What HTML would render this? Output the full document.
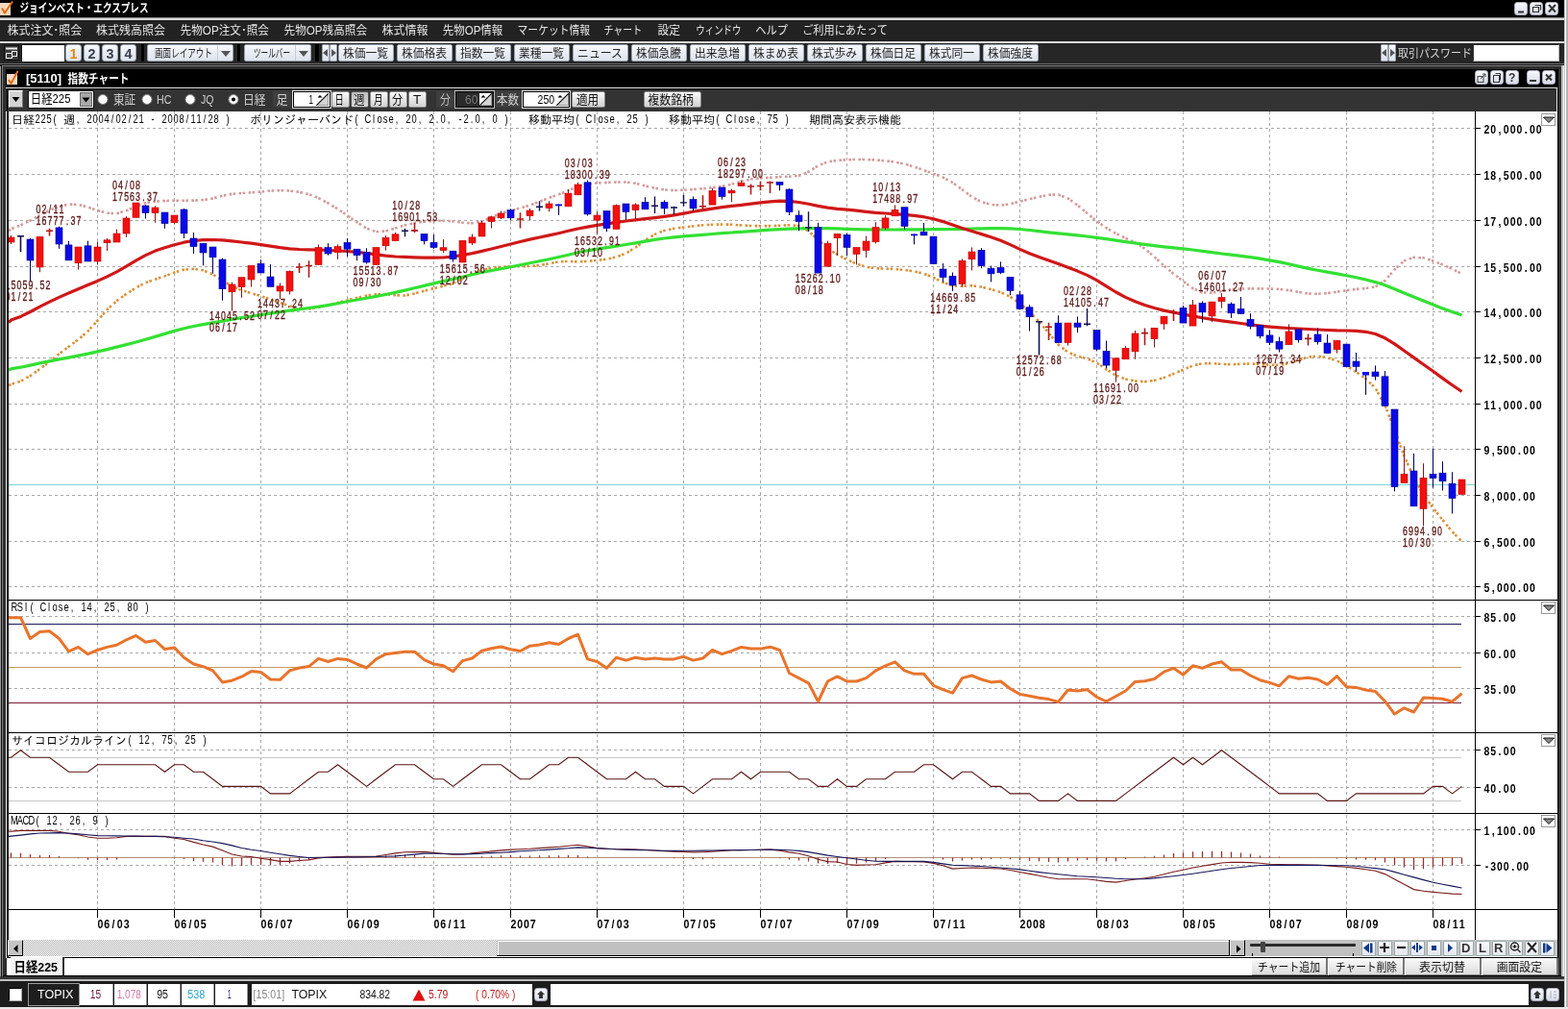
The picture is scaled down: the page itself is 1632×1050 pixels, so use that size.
<!DOCTYPE html>
<html lang="ja"><head><meta charset="utf-8"><title>ジョインベスト・エクスプレス</title><style>
*{margin:0;padding:0}
html,body{width:1632px;height:1050px;overflow:hidden;background:#1c1c1c}
body{position:relative;font-family:"Liberation Sans","Noto Sans CJK JP",sans-serif}
.a{position:absolute}
.btn{position:absolute;box-sizing:border-box;background:linear-gradient(#f6f8fc,#dde3ed);border:1px solid #9aa2b0;border-radius:2px}
.dd{position:absolute;width:16px;height:16px;border-left:1px solid #c8ccd4}
.dd:after{content:"";position:absolute;left:3px;top:6px;border-left:5px solid transparent;border-right:5px solid transparent;border-top:6px solid #555}
.tl,.tr{position:absolute;width:0;height:0;border-top:4px solid transparent;border-bottom:4px solid transparent}
.tl{border-right:5px solid #555}
.tr{border-left:5px solid #555}
.wb{position:absolute;box-sizing:border-box;background:linear-gradient(#f6f8fc,#d6dce8);border:1px solid #aab;border-radius:3px}
.tbtn{position:absolute;box-sizing:border-box;background:linear-gradient(#fafafa,#d2d2d2);border:1px solid #888;border-radius:2px}
.tbtn.pr{background:linear-gradient(#bdbdbd,#d8d8d8);border-color:#555}
.spin{position:absolute;width:13px;height:15px;box-sizing:border-box;background:linear-gradient(135deg,#f0f0f0 50%,#c8c8c8 50%);border:1px solid #888}
.dith{background:repeating-conic-gradient(#b0b0b0 0 25%,#ffffff 0 50%) 0 0/2px 2px}
.sb{background:#c4c4c4;border:1px solid #e8e8e8;border-right-color:#000;border-bottom-color:#000;box-sizing:border-box}
.ib{background:linear-gradient(#fcfcfe,#e2e6ee);border:1px solid #9aa;box-sizing:border-box;border-radius:1px}
.bb{background:linear-gradient(#fafafa,#dcdcdc);border-right:2px solid #777;border-bottom:2px solid #888;box-sizing:border-box}
</style></head><body>
<div class="a" style="left:0;top:0;width:1628px;height:18px;background:#000"></div>
<div class="a" style="left:0;top:3px;width:11px;height:13px;background:#f3d9c0"></div>
<svg class="a" style="left:0;top:0" width="20" height="18"><path d="M2 8.5l3 5 8-12" stroke="#e06a10" stroke-width="2" fill="none"/></svg>
<div class="wb" style="left:1576px;top:2px;width:14px;height:14px"></div>
<div class="wb" style="left:1592px;top:2px;width:14px;height:14px"></div>
<div class="wb" style="left:1608px;top:2px;width:14px;height:14px"></div>
<svg class="a" style="left:1576px;top:2px" width="48" height="14"><path d="M4 10.5h6" stroke="#333" stroke-width="2"/><path d="M19.5 5.5h6v5h-6zM21.5 3.5h6v5" stroke="#333" stroke-width="1.2" fill="none"/><path d="M36 3l7 7.5M43 3l-7 7.5" stroke="#333" stroke-width="2"/></svg>
<div class="a" style="left:0;top:18px;width:1628px;height:1px;background:#8a8a8a"></div>
<div class="a" style="left:0;top:19px;width:1628px;height:2px;background:#d8d8d8"></div>
<div class="a" style="left:0;top:21px;width:1628px;height:22px;background:#222"></div>
<div class="a" style="left:0;top:43px;width:1628px;height:2px;background:#d8d8d8"></div>
<div class="a" style="left:0;top:45px;width:1628px;height:21px;background:#262626"></div>
<div class="a" style="left:0;top:66px;width:1628px;height:1px;background:#6a6a6a"></div>
<div class="a" style="left:0;top:67px;width:1628px;height:2px;background:#1a1a1a"></div>
<div class="a" style="left:4px;top:47px;width:16px;height:16px;background:#3a3a3a;border:1px solid #111;box-sizing:border-box"></div>
<svg class="a" style="left:4px;top:47px" width="16" height="16"><path d="M2 3.5h12" stroke="#eee" stroke-width="2"/><rect x="2.5" y="8.5" width="6" height="5" fill="none" stroke="#eee"/><rect x="8.5" y="6.5" width="5" height="5" fill="none" stroke="#eee"/></svg>
<div class="a" style="left:22px;top:46px;width:45px;height:18px;background:#fff;border-top:1px solid #111;border-left:1px solid #111;box-sizing:border-box"></div>
<div class="btn" style="left:68px;top:46px;width:17px;height:18px;border-radius:3px"></div>
<div class="btn" style="left:87px;top:46px;width:17px;height:18px;border-radius:3px"></div>
<div class="btn" style="left:106px;top:46px;width:17px;height:18px;border-radius:3px"></div>
<div class="btn" style="left:125px;top:46px;width:17px;height:18px;border-radius:3px"></div>
<div class="a" style="left:147px;top:46px;width:3px;height:18px;background:#000"></div>
<div class="btn" style="left:153px;top:46px;width:90px;height:18px;"></div>
<div class="dd" style="left:226px;top:47px"></div>
<div class="a" style="left:247px;top:46px;width:3px;height:18px;background:#000"></div>
<div class="btn" style="left:254px;top:46px;width:70px;height:18px;"></div>
<div class="dd" style="left:307px;top:47px"></div>
<div class="a" style="left:328px;top:46px;width:4px;height:18px;background:#000"></div>
<div class="btn" style="left:335px;top:46px;width:8px;height:18px;border-radius:1px"></div>
<div class="tl" style="left:336px;top:51px"></div>
<div class="btn" style="left:343px;top:46px;width:8px;height:18px;border-radius:1px"></div>
<div class="tr" style="left:345px;top:51px"></div>
<div class="btn" style="left:352px;top:46px;width:58px;height:18px;"></div>
<div class="btn" style="left:413px;top:46px;width:58px;height:18px;"></div>
<div class="btn" style="left:474px;top:46px;width:58px;height:18px;"></div>
<div class="btn" style="left:535px;top:46px;width:58px;height:18px;"></div>
<div class="btn" style="left:596px;top:46px;width:58px;height:18px;"></div>
<div class="btn" style="left:657px;top:46px;width:58px;height:18px;"></div>
<div class="btn" style="left:718px;top:46px;width:58px;height:18px;"></div>
<div class="btn" style="left:779px;top:46px;width:58px;height:18px;"></div>
<div class="btn" style="left:840px;top:46px;width:58px;height:18px;"></div>
<div class="btn" style="left:901px;top:46px;width:58px;height:18px;"></div>
<div class="btn" style="left:962px;top:46px;width:58px;height:18px;"></div>
<div class="btn" style="left:1023px;top:46px;width:58px;height:18px;"></div>
<div class="btn" style="left:1437px;top:46px;width:8px;height:18px;border-radius:1px"></div>
<div class="tl" style="left:1438px;top:51px"></div>
<div class="btn" style="left:1445px;top:46px;width:8px;height:18px;border-radius:1px"></div>
<div class="tr" style="left:1447px;top:51px"></div>
<div class="a" style="left:1533px;top:46px;width:90px;height:18px;background:#fff;border:1px solid #bbb;border-top-color:#333;border-left-color:#333;box-sizing:border-box"></div>
<div class="a" style="left:1628px;top:0;width:4px;height:1050px;background:#c4c4c4"></div>
<div class="a" style="left:1629px;top:0;width:1px;height:1050px;background:#fff"></div>
<div class="a" style="left:1630px;top:0;width:2px;height:1050px;background:#b4b4b4"></div>
<div class="a" style="left:0;top:69px;width:1628px;height:950px;background:#2e2e2e"></div>
<div class="a" style="left:0;top:69px;width:1px;height:950px;background:#9a9a9a"></div>
<div class="a" style="left:1px;top:69px;width:1px;height:950px;background:#111"></div>
<div class="a" style="left:2px;top:68px;width:1px;height:950px;background:#7c7c7c"></div>
<div class="a" style="left:2px;top:68px;width:1624px;height:1px;background:#7c7c7c"></div>
<div class="a" style="left:1625px;top:68px;width:1px;height:950px;background:#d0d0d0"></div>
<div class="a" style="left:6px;top:72px;width:1616px;height:19px;background:#000"></div>
<div class="a" style="left:7px;top:77px;width:11px;height:11px;background:#f6dcc6"></div>
<svg class="a" style="left:6px;top:72px" width="16" height="18"><path d="M3 11l2.5 4 7-13" stroke="#e07010" stroke-width="2" fill="none"/></svg>
<div class="wb" style="left:1535px;top:73px;width:14px;height:15px"></div>
<div class="wb" style="left:1551px;top:73px;width:14px;height:15px"></div>
<div class="wb" style="left:1567px;top:73px;width:14px;height:15px"></div>
<div class="wb" style="left:1589px;top:73px;width:14px;height:15px"></div>
<div class="wb" style="left:1605px;top:73px;width:14px;height:15px"></div>
<svg class="a" style="left:1535px;top:73px" width="84" height="15"><rect x="3" y="6.5" width="6" height="6" fill="none" stroke="#444"/><path d="M6 9l5-5M8 4h3v3" stroke="#444" fill="none"/><rect x="19.5" y="5.5" width="6" height="7" fill="none" stroke="#333"/><path d="M21.5 3.5h5v7" stroke="#333" fill="none"/><text x="35" y="12" font-family="Liberation Sans" font-weight="bold" font-size="12" fill="#333">?</text><path d="M57 11h7" stroke="#333" stroke-width="2"/><path d="M74 4.5l6 6M80 4.5l-6 6" stroke="#333" stroke-width="2"/></svg>
<div class="a" style="left:6px;top:91px;width:1615px;height:1px;background:#e8e8e8"></div>
<div class="a" style="left:7px;top:92px;width:1613px;height:24px;background:#333;border-top:1px solid #000;border-left:1px solid #000;box-sizing:border-box"></div>
<div class="a" style="left:9px;top:94px;width:15px;height:18px;background:#d4d4d4;border:1px solid #fff;border-right-color:#777;border-bottom-color:#777;box-sizing:border-box"></div>
<svg class="a" style="left:9px;top:94px" width="15" height="18"><path d="M3.5 7h8l-4 5z" fill="#000"/></svg>
<div class="a" style="left:29px;top:94px;width:69px;height:19px;background:#fff;border:1px solid #111;box-sizing:border-box"></div>
<div class="a" style="left:83px;top:96px;width:13px;height:15px;background:#a8a8a8;border:1px solid #666;box-sizing:border-box"></div>
<svg class="a" style="left:83px;top:96px" width="13" height="15"><path d="M2.5 5.5h8l-4 5z" fill="#000"/></svg>
<svg class="a" style="left:101px;top:97px" width="13" height="13"><circle cx="6" cy="6.5" r="5" fill="#fff" stroke="#888" stroke-width="1"/></svg>
<svg class="a" style="left:147px;top:97px" width="13" height="13"><circle cx="6" cy="6.5" r="5" fill="#fff" stroke="#888" stroke-width="1"/></svg>
<svg class="a" style="left:192px;top:97px" width="13" height="13"><circle cx="6" cy="6.5" r="5" fill="#fff" stroke="#888" stroke-width="1"/></svg>
<svg class="a" style="left:237px;top:97px" width="13" height="13"><circle cx="6" cy="6.5" r="5" fill="#fff" stroke="#888" stroke-width="1"/><circle cx="6" cy="6.5" r="2" fill="#000"/></svg>
<div class="a" style="left:284px;top:95px;width:19px;height:17px;background:#3e3e3e"></div>
<div class="a" style="left:304px;top:94px;width:41px;height:19px;border:1px solid #ddd;box-sizing:border-box"></div>
<div class="a" style="left:305px;top:95px;width:39px;height:17px;background:#fff;border:1px solid #000;box-sizing:border-box"></div>
<svg class="a" style="left:329px;top:97px" width="13" height="13"><rect width="13" height="13" fill="#fff"/><path d="M0 13L13 0V13Z" fill="#d4d4d4"/><path d="M12.5 1v11.5H1" stroke="#999" fill="none"/><path d="M0.3 12.7L12.7 0.3" stroke="#000" stroke-width="1.1"/><path d="M1.5 4.5l2.5-2.5 2.5 2.5z" fill="#000"/></svg>
<div class="tbtn" style="left:345px;top:95px;width:19px;height:17px"></div>
<div class="tbtn pr" style="left:365px;top:95px;width:19px;height:17px"></div>
<div class="tbtn" style="left:385px;top:95px;width:19px;height:17px"></div>
<div class="tbtn" style="left:405px;top:95px;width:19px;height:17px"></div>
<div class="tbtn" style="left:425px;top:95px;width:19px;height:17px"></div>
<div class="a" style="left:454px;top:95px;width:19px;height:17px;background:#3e3e3e"></div>
<div class="a" style="left:473px;top:94px;width:42px;height:19px;border:1px solid #bbb;box-sizing:border-box"></div>
<div class="a" style="left:474px;top:95px;width:40px;height:17px;background:#2a2a2a;border:1px solid #000;box-sizing:border-box"></div>
<svg class="a" style="left:499px;top:97px" width="13" height="13"><rect width="13" height="13" fill="#fff"/><path d="M0 13L13 0V13Z" fill="#d4d4d4"/><path d="M12.5 1v11.5H1" stroke="#999" fill="none"/><path d="M0.3 12.7L12.7 0.3" stroke="#000" stroke-width="1.1"/><path d="M1.5 4.5l2.5-2.5 2.5 2.5z" fill="#000"/></svg>
<div class="a" style="left:515px;top:95px;width:28px;height:17px;background:#3e3e3e"></div>
<div class="a" style="left:543px;top:94px;width:51px;height:19px;border:1px solid #ddd;box-sizing:border-box"></div>
<div class="a" style="left:544px;top:95px;width:49px;height:17px;background:#fff;border:1px solid #000;box-sizing:border-box"></div>
<svg class="a" style="left:579px;top:97px" width="13" height="13"><rect width="13" height="13" fill="#fff"/><path d="M0 13L13 0V13Z" fill="#d4d4d4"/><path d="M12.5 1v11.5H1" stroke="#999" fill="none"/><path d="M0.3 12.7L12.7 0.3" stroke="#000" stroke-width="1.1"/><path d="M1.5 4.5l2.5-2.5 2.5 2.5z" fill="#000"/></svg>
<div class="tbtn" style="left:595px;top:95px;width:35px;height:17px"></div>
<div class="tbtn" style="left:670px;top:95px;width:60px;height:17px"></div>
<div class="a" style="left:7px;top:116px;width:2px;height:881px;background:#000"></div>
<div class="a" style="left:6px;top:116px;width:1px;height:881px;background:#f4f4f4"></div>
<div class="a" style="left:1620px;top:92px;width:1px;height:24px;background:#e8e8e8"></div>
<div class="a" style="left:1621px;top:92px;width:1px;height:926px;background:#000"></div>
<div class="a" style="left:1622px;top:72px;width:3px;height:946px;background:#333"></div>
<div class="a" style="left:1625px;top:68px;width:2px;height:952px;background:#bcbcbc"></div>
<div class="a" style="left:1627px;top:68px;width:1px;height:952px;background:#fafafa"></div>
<svg class="a" style="left:0;top:0" width="1632" height="1050">
<rect x="9" y="116" width="1612" height="880" fill="#fff"/>
<path d="M101.5 116V946M181.5 116V946M271.5 116V946M361.5 116V946M451.5 116V946M531.5 116V946M621.5 116V946M711.5 116V946M791.5 116V946M881.5 116V946M971.5 116V946M1061.5 116V946M1141.5 116V946M1231.5 116V946M1321.5 116V946M1401.5 116V946M1491.5 116V946M9 133.5H1535M9 181.5H1535M9 229.5H1535M9 277.5H1535M9 324.5H1535M9 372.5H1535M9 420.5H1535M9 467.5H1535M9 515.5H1535M9 563.5H1535M9 610.5H1535M9 641.5H1535M9 679.5H1535M9 716.5H1535M9 780.5H1535M9 819.5H1535M9 863.5H1535M9 900.5H1535" stroke="#a8a8a8" stroke-width="1" stroke-dasharray="3,3" fill="none"/>
<clipPath id="cm"><rect x="9" y="116" width="1526" height="508"/></clipPath>
<g clip-path="url(#cm)">
<path d="M9 504.5H1535" stroke="#7fd4d4" stroke-width="1"/>
<polyline points="9.0,240.3 11.5,238.3 21.5,234.4 31.5,229.5 41.5,224.1 51.5,218.9 61.5,214.8 71.5,212.6 81.5,212.9 91.5,215.5 101.5,219.0 111.5,221.7 121.5,222.1 131.5,219.2 141.5,214.6 151.5,211.2 161.5,209.7 171.5,209.0 181.5,208.8 191.5,208.7 201.5,208.6 211.5,208.0 221.5,206.5 231.5,203.8 241.5,201.8 251.5,201.0 261.5,200.4 271.5,199.6 281.5,198.5 291.5,198.1 301.5,198.5 311.5,199.8 321.5,202.2 331.5,206.1 341.5,211.4 351.5,217.5 361.5,224.2 371.5,231.2 381.5,237.6 391.5,241.2 401.5,240.5 411.5,237.4 421.5,234.3 431.5,232.1 441.5,230.7 451.5,229.9 461.5,229.7 471.5,230.3 481.5,231.6 491.5,232.3 501.5,230.1 511.5,226.0 521.5,222.2 531.5,219.2 541.5,216.5 551.5,213.6 561.5,209.8 571.5,205.9 581.5,202.4 591.5,198.3 601.5,194.0 611.5,191.5 621.5,190.5 631.5,190.0 641.5,189.5 651.5,189.5 661.5,190.8 671.5,193.4 681.5,195.8 691.5,197.5 701.5,198.1 711.5,197.8 721.5,197.1 731.5,196.3 741.5,195.3 751.5,193.9 761.5,191.7 771.5,188.8 781.5,186.5 791.5,185.4 801.5,184.8 811.5,184.1 821.5,183.7 831.5,182.9 841.5,178.8 851.5,172.5 861.5,168.3 871.5,166.9 881.5,166.3 891.5,165.9 901.5,166.0 911.5,166.5 921.5,167.3 931.5,168.6 941.5,170.7 951.5,173.6 961.5,177.1 971.5,180.7 981.5,184.6 991.5,190.0 1001.5,197.3 1011.5,204.8 1021.5,210.1 1031.5,212.9 1041.5,213.7 1051.5,212.3 1061.5,209.6 1071.5,207.1 1081.5,204.8 1091.5,202.7 1101.5,202.6 1111.5,206.4 1121.5,213.5 1131.5,221.9 1141.5,230.1 1151.5,237.2 1161.5,243.0 1171.5,247.9 1181.5,252.5 1191.5,258.7 1201.5,267.3 1211.5,276.5 1221.5,284.9 1231.5,292.7 1241.5,300.0 1251.5,304.4 1261.5,304.8 1271.5,302.9 1281.5,301.2 1291.5,300.5 1301.5,300.4 1311.5,300.4 1321.5,300.5 1331.5,300.9 1341.5,302.0 1351.5,303.8 1361.5,305.5 1371.5,305.8 1381.5,305.1 1391.5,303.7 1401.5,302.2 1411.5,300.9 1421.5,300.0 1431.5,298.5 1441.5,292.0 1451.5,280.5 1461.5,271.4 1471.5,267.8 1481.5,268.3 1491.5,271.5 1501.5,275.4 1511.5,279.8 1521.5,285.0" fill="none" stroke="#d49a9a" stroke-width="2.6" stroke-dasharray="2.6,1.4,2.6,3.4"/>
<polyline points="9.0,401.2 11.5,399.9 21.5,396.7 31.5,391.2 41.5,384.0 51.5,376.2 61.5,368.3 71.5,360.7 81.5,353.3 91.5,344.7 101.5,333.6 111.5,322.2 121.5,313.1 131.5,305.9 141.5,299.4 151.5,294.2 161.5,290.7 171.5,287.4 181.5,283.5 191.5,280.6 201.5,279.8 211.5,281.3 221.5,285.5 231.5,291.8 241.5,297.8 251.5,302.0 261.5,305.1 271.5,308.1 281.5,311.6 291.5,315.2 301.5,318.4 311.5,321.0 321.5,321.5 331.5,319.9 341.5,317.4 351.5,315.0 361.5,312.4 371.5,309.9 381.5,307.7 391.5,306.3 401.5,306.1 411.5,307.2 421.5,307.5 431.5,305.5 441.5,302.7 451.5,300.1 461.5,297.8 471.5,294.8 481.5,289.9 491.5,284.5 501.5,280.9 511.5,278.9 521.5,277.8 531.5,277.3 541.5,277.2 551.5,277.0 561.5,276.1 571.5,274.3 581.5,272.3 591.5,271.9 601.5,272.4 611.5,271.9 621.5,270.9 631.5,269.7 641.5,267.5 651.5,263.6 661.5,257.5 671.5,250.2 681.5,243.9 691.5,239.9 701.5,237.8 711.5,236.5 721.5,235.3 731.5,234.3 741.5,233.7 751.5,233.5 761.5,233.7 771.5,234.4 781.5,235.0 791.5,235.2 801.5,235.1 811.5,234.7 821.5,234.2 831.5,235.1 841.5,240.4 851.5,249.6 861.5,258.5 871.5,264.9 881.5,270.1 891.5,274.6 901.5,277.8 911.5,279.2 921.5,279.6 931.5,280.0 941.5,280.9 951.5,282.4 961.5,284.7 971.5,288.8 981.5,293.9 991.5,297.4 1001.5,297.8 1011.5,297.3 1021.5,298.6 1031.5,301.0 1041.5,304.2 1051.5,308.8 1061.5,315.6 1071.5,324.3 1081.5,334.6 1091.5,346.6 1101.5,358.5 1111.5,366.6 1121.5,370.6 1131.5,373.2 1141.5,377.6 1151.5,384.3 1161.5,390.6 1171.5,394.5 1181.5,396.5 1191.5,397.1 1201.5,395.9 1211.5,393.0 1221.5,389.0 1231.5,384.7 1241.5,380.6 1251.5,378.2 1261.5,378.1 1271.5,378.9 1281.5,379.2 1291.5,378.8 1301.5,378.5 1311.5,378.9 1321.5,379.7 1331.5,379.8 1341.5,378.1 1351.5,374.7 1361.5,371.5 1371.5,370.6 1381.5,372.2 1391.5,375.5 1401.5,380.6 1411.5,387.1 1421.5,394.1 1431.5,403.8 1441.5,421.8 1451.5,447.8 1461.5,474.5 1471.5,497.0 1481.5,514.5 1491.5,528.5 1501.5,541.2 1511.5,553.2 1521.5,563.6" fill="none" stroke="#d8923a" stroke-width="2.6" stroke-dasharray="2.6,1.4,2.6,3.4"/>
<polyline points="9.0,385.1 11.5,383.9 21.5,382.2 31.5,380.1 41.5,377.9 51.5,375.9 61.5,373.9 71.5,372.1 81.5,370.1 91.5,368.1 101.5,365.9 111.5,363.6 121.5,361.1 131.5,358.6 141.5,356.0 151.5,353.3 161.5,350.4 171.5,347.4 181.5,344.4 191.5,341.7 201.5,339.5 211.5,337.6 221.5,335.9 231.5,334.1 241.5,332.4 251.5,330.7 261.5,329.1 271.5,327.6 281.5,326.1 291.5,324.6 301.5,323.1 311.5,321.8 321.5,320.5 331.5,319.2 341.5,317.6 351.5,315.8 361.5,313.8 371.5,312.0 381.5,310.2 391.5,308.4 401.5,306.5 411.5,304.4 421.5,302.1 431.5,299.8 441.5,297.4 451.5,294.9 461.5,292.6 471.5,290.4 481.5,288.2 491.5,285.8 501.5,283.5 511.5,281.5 521.5,279.7 531.5,277.8 541.5,275.8 551.5,273.8 561.5,271.8 571.5,269.7 581.5,267.5 591.5,265.2 601.5,262.8 611.5,260.8 621.5,259.1 631.5,257.6 641.5,256.1 651.5,254.5 661.5,252.8 671.5,251.1 681.5,249.4 691.5,248.0 701.5,246.8 711.5,245.9 721.5,245.1 731.5,244.3 741.5,243.5 751.5,242.7 761.5,242.0 771.5,241.4 781.5,240.6 791.5,239.9 801.5,239.2 811.5,238.6 821.5,238.2 831.5,237.9 841.5,237.7 851.5,237.6 861.5,237.7 871.5,237.9 881.5,238.3 891.5,238.6 901.5,238.9 911.5,239.0 921.5,239.0 931.5,239.0 941.5,238.9 951.5,238.9 961.5,238.8 971.5,238.7 981.5,238.6 991.5,238.5 1001.5,238.3 1011.5,238.1 1021.5,237.8 1031.5,237.7 1041.5,237.7 1051.5,237.9 1061.5,238.5 1071.5,239.5 1081.5,240.6 1091.5,241.8 1101.5,242.8 1111.5,243.9 1121.5,244.9 1131.5,246.0 1141.5,247.3 1151.5,248.7 1161.5,250.2 1171.5,251.7 1181.5,253.0 1191.5,254.3 1201.5,255.6 1211.5,256.8 1221.5,257.8 1231.5,258.8 1241.5,260.0 1251.5,261.4 1261.5,262.7 1271.5,264.0 1281.5,265.2 1291.5,266.4 1301.5,267.7 1311.5,269.2 1321.5,270.8 1331.5,272.6 1341.5,274.8 1351.5,277.1 1361.5,279.4 1371.5,281.3 1381.5,283.1 1391.5,284.9 1401.5,286.8 1411.5,288.8 1421.5,291.0 1431.5,293.6 1441.5,296.8 1451.5,300.7 1461.5,304.9 1471.5,309.0 1481.5,313.1 1491.5,317.1 1501.5,320.9 1511.5,324.5 1521.5,328.0" fill="none" stroke="#33e033" stroke-width="3.2" stroke-linejoin="round"/>
<polyline points="9.0,335.6 11.5,333.1 21.5,329.4 31.5,324.5 41.5,319.2 51.5,314.1 61.5,309.4 71.5,305.0 81.5,300.8 91.5,296.6 101.5,292.4 111.5,287.9 121.5,282.9 131.5,277.2 141.5,271.2 151.5,265.6 161.5,261.1 171.5,257.7 181.5,254.8 191.5,252.2 201.5,250.5 211.5,249.7 221.5,249.5 231.5,249.9 241.5,250.8 251.5,252.0 261.5,253.2 271.5,254.6 281.5,256.2 291.5,257.7 301.5,258.9 311.5,259.5 321.5,259.8 331.5,260.0 341.5,260.5 351.5,261.0 361.5,261.5 371.5,262.3 381.5,263.5 391.5,264.9 401.5,266.2 411.5,267.0 421.5,267.4 431.5,267.8 441.5,268.1 451.5,268.2 461.5,268.0 471.5,267.0 481.5,265.5 491.5,263.6 501.5,261.4 511.5,259.0 521.5,256.5 531.5,254.0 541.5,251.5 551.5,249.1 561.5,247.0 571.5,244.9 581.5,242.7 591.5,240.3 601.5,238.0 611.5,236.1 621.5,234.4 631.5,232.9 641.5,231.3 651.5,230.0 661.5,228.8 671.5,227.7 681.5,226.6 691.5,225.3 701.5,223.8 711.5,222.1 721.5,220.3 731.5,218.6 741.5,217.1 751.5,215.7 761.5,214.4 771.5,213.3 781.5,212.1 791.5,210.8 801.5,209.8 811.5,209.2 821.5,209.4 831.5,210.5 841.5,212.3 851.5,214.4 861.5,216.1 871.5,217.3 881.5,218.2 891.5,219.2 901.5,220.3 911.5,221.3 921.5,222.0 931.5,222.6 941.5,223.4 951.5,224.4 961.5,225.7 971.5,227.7 981.5,230.6 991.5,234.0 1001.5,237.4 1011.5,240.6 1021.5,243.6 1031.5,246.8 1041.5,250.3 1051.5,254.6 1061.5,259.4 1071.5,263.8 1081.5,267.5 1091.5,271.1 1101.5,274.6 1111.5,278.2 1121.5,282.1 1131.5,286.4 1141.5,291.7 1151.5,297.8 1161.5,304.0 1171.5,309.4 1181.5,313.8 1191.5,317.5 1201.5,320.5 1211.5,323.1 1221.5,325.1 1231.5,327.0 1241.5,328.9 1251.5,330.7 1261.5,332.4 1271.5,333.8 1281.5,335.2 1291.5,336.5 1301.5,337.9 1311.5,339.1 1321.5,340.1 1331.5,340.9 1341.5,341.5 1351.5,342.0 1361.5,342.5 1371.5,343.0 1381.5,343.5 1391.5,343.9 1401.5,344.0 1411.5,344.3 1421.5,345.3 1431.5,347.5 1441.5,351.8 1451.5,357.9 1461.5,365.0 1471.5,372.1 1481.5,379.2 1491.5,386.3 1501.5,393.6 1511.5,400.7 1521.5,407.5" fill="none" stroke="#d01818" stroke-width="3.2" stroke-linejoin="round"/>
<path d="M11.5 245.0V254.0" stroke="#7a1a1a" stroke-width="1"/>
<rect x="8.0" y="247.0" width="7" height="5.0" fill="#f21010" stroke="#c00000" stroke-width="0.6"/>
<path d="M21.5 245.0V262.0M18.0 245.8H25.0" stroke="#101050" stroke-width="1.6"/>
<path d="M31.5 248.0V292.0" stroke="#000060" stroke-width="1"/>
<rect x="28.0" y="249.0" width="7" height="22.0" fill="#0a0ae8" stroke="#00008a" stroke-width="0.6"/>
<path d="M41.5 246.0V283.2" stroke="#7a1a1a" stroke-width="1"/>
<rect x="38.0" y="246.3" width="7" height="31.7" fill="#f21010" stroke="#c00000" stroke-width="0.6"/>
<path d="M51.5 237.8V245.5M48.0 240.3H55.0" stroke="#b01818" stroke-width="1.6"/>
<path d="M61.5 235.7V258.8" stroke="#000060" stroke-width="1"/>
<rect x="58.0" y="236.9" width="7" height="17.1" fill="#0a0ae8" stroke="#00008a" stroke-width="0.6"/>
<path d="M71.5 251.0V271.0" stroke="#000060" stroke-width="1"/>
<rect x="68.0" y="254.9" width="7" height="16.0" fill="#0a0ae8" stroke="#00008a" stroke-width="0.6"/>
<path d="M81.5 257.0V280.6" stroke="#7a1a1a" stroke-width="1"/>
<rect x="78.0" y="257.0" width="7" height="16.8" fill="#f21010" stroke="#c00000" stroke-width="0.6"/>
<path d="M91.5 250.6V272.0" stroke="#000060" stroke-width="1"/>
<rect x="88.0" y="255.8" width="7" height="16.2" fill="#0a0ae8" stroke="#00008a" stroke-width="0.6"/>
<path d="M101.5 251.5V275.5" stroke="#7a1a1a" stroke-width="1"/>
<rect x="98.0" y="257.0" width="7" height="15.0" fill="#f21010" stroke="#c00000" stroke-width="0.6"/>
<path d="M111.5 248.0V261.0" stroke="#7a1a1a" stroke-width="1"/>
<rect x="108.0" y="249.8" width="7" height="2.9" fill="#f21010" stroke="#c00000" stroke-width="0.6"/>
<path d="M121.5 238.6V252.0" stroke="#7a1a1a" stroke-width="1"/>
<rect x="118.0" y="243.0" width="7" height="9.0" fill="#f21010" stroke="#c00000" stroke-width="0.6"/>
<path d="M131.5 225.0V246.8" stroke="#7a1a1a" stroke-width="1"/>
<rect x="128.0" y="227.0" width="7" height="16.0" fill="#f21010" stroke="#c00000" stroke-width="0.6"/>
<path d="M141.5 211.0V226.3" stroke="#7a1a1a" stroke-width="1"/>
<rect x="138.0" y="211.0" width="7" height="15.3" fill="#f21010" stroke="#c00000" stroke-width="0.6"/>
<path d="M151.5 213.0V227.5" stroke="#000060" stroke-width="1"/>
<rect x="148.0" y="214.0" width="7" height="7.5" fill="#0a0ae8" stroke="#00008a" stroke-width="0.6"/>
<path d="M161.5 214.3V231.7" stroke="#7a1a1a" stroke-width="1"/>
<rect x="158.0" y="216.0" width="7" height="5.5" fill="#f21010" stroke="#c00000" stroke-width="0.6"/>
<path d="M171.5 221.0V237.8" stroke="#000060" stroke-width="1"/>
<rect x="168.0" y="221.0" width="7" height="11.6" fill="#0a0ae8" stroke="#00008a" stroke-width="0.6"/>
<path d="M181.5 224.0V233.5" stroke="#7a1a1a" stroke-width="1"/>
<rect x="178.0" y="224.0" width="7" height="7.7" fill="#f21010" stroke="#c00000" stroke-width="0.6"/>
<path d="M191.5 217.0V248.0" stroke="#000060" stroke-width="1"/>
<rect x="188.0" y="218.0" width="7" height="24.9" fill="#0a0ae8" stroke="#00008a" stroke-width="0.6"/>
<path d="M201.5 242.0V264.0" stroke="#000060" stroke-width="1"/>
<rect x="198.0" y="248.0" width="7" height="8.6" fill="#0a0ae8" stroke="#00008a" stroke-width="0.6"/>
<path d="M211.5 253.2V276.3" stroke="#000060" stroke-width="1"/>
<rect x="208.0" y="253.2" width="7" height="9.8" fill="#0a0ae8" stroke="#00008a" stroke-width="0.6"/>
<path d="M221.5 257.0V284.6" stroke="#000060" stroke-width="1"/>
<rect x="218.0" y="257.0" width="7" height="10.8" fill="#0a0ae8" stroke="#00008a" stroke-width="0.6"/>
<path d="M231.5 268.6V312.7" stroke="#000060" stroke-width="1"/>
<rect x="228.0" y="270.0" width="7" height="30.7" fill="#0a0ae8" stroke="#00008a" stroke-width="0.6"/>
<path d="M241.5 293.5V323.5" stroke="#7a1a1a" stroke-width="1"/>
<rect x="238.0" y="296.0" width="7" height="7.8" fill="#f21010" stroke="#c00000" stroke-width="0.6"/>
<path d="M251.5 288.7V309.8" stroke="#7a1a1a" stroke-width="1"/>
<rect x="248.0" y="288.7" width="7" height="9.9" fill="#f21010" stroke="#c00000" stroke-width="0.6"/>
<path d="M261.5 276.3V298.6" stroke="#7a1a1a" stroke-width="1"/>
<rect x="258.0" y="276.3" width="7" height="14.7" fill="#f21010" stroke="#c00000" stroke-width="0.6"/>
<path d="M271.5 270.3V284.0" stroke="#000060" stroke-width="1"/>
<rect x="268.0" y="274.3" width="7" height="9.7" fill="#0a0ae8" stroke="#00008a" stroke-width="0.6"/>
<path d="M281.5 275.0V298.3" stroke="#000060" stroke-width="1"/>
<rect x="278.0" y="288.0" width="7" height="10.3" fill="#0a0ae8" stroke="#00008a" stroke-width="0.6"/>
<path d="M291.5 294.4V311.0" stroke="#7a1a1a" stroke-width="1"/>
<rect x="288.0" y="297.8" width="7" height="5.2" fill="#f21010" stroke="#c00000" stroke-width="0.6"/>
<path d="M301.5 281.5V306.4" stroke="#7a1a1a" stroke-width="1"/>
<rect x="298.0" y="282.3" width="7" height="20.7" fill="#f21010" stroke="#c00000" stroke-width="0.6"/>
<path d="M311.5 273.8V284.0M308.0 278.0H315.0" stroke="#b01818" stroke-width="1.6"/>
<path d="M321.5 271.2V288.7M318.0 276.5H325.0" stroke="#b01818" stroke-width="1.6"/>
<path d="M331.5 254.4V275.5" stroke="#7a1a1a" stroke-width="1"/>
<rect x="328.0" y="257.5" width="7" height="18.0" fill="#f21010" stroke="#c00000" stroke-width="0.6"/>
<path d="M341.5 253.2V265.7" stroke="#000060" stroke-width="1"/>
<rect x="338.0" y="257.5" width="7" height="6.5" fill="#0a0ae8" stroke="#00008a" stroke-width="0.6"/>
<path d="M351.5 254.4V269.8" stroke="#7a1a1a" stroke-width="1"/>
<rect x="348.0" y="256.6" width="7" height="6.0" fill="#f21010" stroke="#c00000" stroke-width="0.6"/>
<path d="M361.5 248.0V267.0" stroke="#000060" stroke-width="1"/>
<rect x="358.0" y="252.3" width="7" height="6.9" fill="#0a0ae8" stroke="#00008a" stroke-width="0.6"/>
<path d="M371.5 259.2V271.2" stroke="#000060" stroke-width="1"/>
<rect x="368.0" y="259.2" width="7" height="6.5" fill="#0a0ae8" stroke="#00008a" stroke-width="0.6"/>
<path d="M381.5 258.3V274.6" stroke="#000060" stroke-width="1"/>
<rect x="378.0" y="262.6" width="7" height="10.4" fill="#0a0ae8" stroke="#00008a" stroke-width="0.6"/>
<path d="M391.5 257.5V276.0" stroke="#7a1a1a" stroke-width="1"/>
<rect x="388.0" y="257.5" width="7" height="18.0" fill="#f21010" stroke="#c00000" stroke-width="0.6"/>
<path d="M401.5 245.1V260.6" stroke="#7a1a1a" stroke-width="1"/>
<rect x="398.0" y="247.2" width="7" height="8.6" fill="#f21010" stroke="#c00000" stroke-width="0.6"/>
<path d="M411.5 241.7V250.6" stroke="#7a1a1a" stroke-width="1"/>
<rect x="408.0" y="243.8" width="7" height="6.8" fill="#f21010" stroke="#c00000" stroke-width="0.6"/>
<path d="M421.5 237.8V246.3M418.0 240.3H425.0" stroke="#101050" stroke-width="1.4"/>
<path d="M431.5 232.0V242.0M428.0 239.9H435.0" stroke="#b01818" stroke-width="1.6"/>
<path d="M441.5 243.4V254.4" stroke="#000060" stroke-width="1"/>
<rect x="438.0" y="243.4" width="7" height="7.2" fill="#0a0ae8" stroke="#00008a" stroke-width="0.6"/>
<path d="M451.5 244.1V258.9" stroke="#000060" stroke-width="1"/>
<rect x="448.0" y="252.3" width="7" height="5.2" fill="#0a0ae8" stroke="#00008a" stroke-width="0.6"/>
<path d="M461.5 249.1V263.2" stroke="#7a1a1a" stroke-width="1"/>
<rect x="458.0" y="257.7" width="7" height="2.9" fill="#f21010" stroke="#c00000" stroke-width="0.6"/>
<path d="M471.5 261.2V272.6" stroke="#000060" stroke-width="1"/>
<rect x="468.0" y="261.2" width="7" height="8.5" fill="#0a0ae8" stroke="#00008a" stroke-width="0.6"/>
<path d="M481.5 250.3V273.0" stroke="#7a1a1a" stroke-width="1"/>
<rect x="478.0" y="250.3" width="7" height="22.7" fill="#f21010" stroke="#c00000" stroke-width="0.6"/>
<path d="M491.5 243.5V255.0" stroke="#7a1a1a" stroke-width="1"/>
<rect x="488.0" y="246.9" width="7" height="6.0" fill="#f21010" stroke="#c00000" stroke-width="0.6"/>
<path d="M501.5 229.8V246.0" stroke="#7a1a1a" stroke-width="1"/>
<rect x="498.0" y="232.0" width="7" height="14.0" fill="#f21010" stroke="#c00000" stroke-width="0.6"/>
<path d="M511.5 224.6V237.5" stroke="#7a1a1a" stroke-width="1"/>
<rect x="508.0" y="225.8" width="7" height="4.8" fill="#f21010" stroke="#c00000" stroke-width="0.6"/>
<path d="M521.5 219.5V228.0" stroke="#7a1a1a" stroke-width="1"/>
<rect x="518.0" y="222.0" width="7" height="4.8" fill="#f21010" stroke="#c00000" stroke-width="0.6"/>
<path d="M531.5 217.2V229.2" stroke="#000060" stroke-width="1"/>
<rect x="528.0" y="218.6" width="7" height="8.2" fill="#0a0ae8" stroke="#00008a" stroke-width="0.6"/>
<path d="M541.5 221.2V237.5M538.0 228.0H545.0" stroke="#b01818" stroke-width="1.6"/>
<path d="M551.5 216.9V229.2" stroke="#7a1a1a" stroke-width="1"/>
<rect x="548.0" y="219.0" width="7" height="5.6" fill="#f21010" stroke="#c00000" stroke-width="0.6"/>
<path d="M561.5 209.2V219.5M558.0 215.2H565.0" stroke="#101050" stroke-width="1.4"/>
<path d="M571.5 209.2V220.3" stroke="#7a1a1a" stroke-width="1"/>
<rect x="568.0" y="212.0" width="7" height="4.6" fill="#f21010" stroke="#c00000" stroke-width="0.6"/>
<path d="M581.5 212.5V223.8" stroke="#101050" stroke-width="1.2"/>
<rect x="578.0" y="212.5" width="7" height="1.8" fill="#0a0ae8"/>
<path d="M591.5 197.2V214.8" stroke="#7a1a1a" stroke-width="1"/>
<rect x="588.0" y="201.1" width="7" height="13.7" fill="#f21010" stroke="#c00000" stroke-width="0.6"/>
<path d="M601.5 189.8V202.8" stroke="#7a1a1a" stroke-width="1"/>
<rect x="598.0" y="192.0" width="7" height="10.8" fill="#f21010" stroke="#c00000" stroke-width="0.6"/>
<path d="M611.5 187.5V224.6" stroke="#000060" stroke-width="1"/>
<rect x="608.0" y="189.8" width="7" height="33.1" fill="#0a0ae8" stroke="#00008a" stroke-width="0.6"/>
<path d="M621.5 220.3V243.6" stroke="#7a1a1a" stroke-width="1"/>
<rect x="618.0" y="224.0" width="7" height="5.2" fill="#f21010" stroke="#c00000" stroke-width="0.6"/>
<path d="M631.5 219.5V241.3" stroke="#000060" stroke-width="1"/>
<rect x="628.0" y="219.5" width="7" height="18.0" fill="#0a0ae8" stroke="#00008a" stroke-width="0.6"/>
<path d="M641.5 212.6V238.3" stroke="#7a1a1a" stroke-width="1"/>
<rect x="638.0" y="213.8" width="7" height="24.5" fill="#f21010" stroke="#c00000" stroke-width="0.6"/>
<path d="M651.5 212.0V228.9" stroke="#000060" stroke-width="1"/>
<rect x="648.0" y="212.0" width="7" height="8.3" fill="#0a0ae8" stroke="#00008a" stroke-width="0.6"/>
<path d="M661.5 211.4V228.0" stroke="#7a1a1a" stroke-width="1"/>
<rect x="658.0" y="213.0" width="7" height="5.6" fill="#f21010" stroke="#c00000" stroke-width="0.6"/>
<path d="M671.5 205.2V217.8" stroke="#000060" stroke-width="1"/>
<rect x="668.0" y="210.4" width="7" height="7.4" fill="#0a0ae8" stroke="#00008a" stroke-width="0.6"/>
<path d="M681.5 204.5V222.0M678.0 214.3H685.0" stroke="#101050" stroke-width="1.4"/>
<path d="M691.5 208.3V222.9" stroke="#000060" stroke-width="1"/>
<rect x="688.0" y="210.4" width="7" height="6.5" fill="#0a0ae8" stroke="#00008a" stroke-width="0.6"/>
<path d="M701.5 214.8V222.9M698.0 216.0H705.0" stroke="#101050" stroke-width="1.4"/>
<path d="M711.5 202.8V214.8M708.0 210.9H715.0" stroke="#101050" stroke-width="1.4"/>
<path d="M721.5 204.5V219.5" stroke="#000060" stroke-width="1"/>
<rect x="718.0" y="207.5" width="7" height="9.4" fill="#0a0ae8" stroke="#00008a" stroke-width="0.6"/>
<path d="M731.5 203.2V217.8M728.0 214.8H735.0" stroke="#b01818" stroke-width="1.6"/>
<path d="M741.5 196.0V213.1" stroke="#7a1a1a" stroke-width="1"/>
<rect x="738.0" y="198.4" width="7" height="14.7" fill="#f21010" stroke="#c00000" stroke-width="0.6"/>
<path d="M751.5 195.0V207.6" stroke="#000060" stroke-width="1"/>
<rect x="748.0" y="195.0" width="7" height="9.6" fill="#0a0ae8" stroke="#00008a" stroke-width="0.6"/>
<path d="M761.5 196.6V210.3" stroke="#7a1a1a" stroke-width="1"/>
<rect x="758.0" y="198.3" width="7" height="2.6" fill="#f21010" stroke="#c00000" stroke-width="0.6"/>
<path d="M771.5 187.6V193.5" stroke="#7a1a1a" stroke-width="1"/>
<rect x="768.0" y="190.6" width="7" height="2.9" fill="#f21010" stroke="#c00000" stroke-width="0.6"/>
<path d="M781.5 191.5V202.6M778.0 194.0H785.0" stroke="#b01818" stroke-width="1.6"/>
<path d="M791.5 188.9V198.3M788.0 193.5H795.0" stroke="#b01818" stroke-width="1.6"/>
<path d="M801.5 188.4V200.9M798.0 190.0H805.0" stroke="#b01818" stroke-width="1.6"/>
<path d="M811.5 189.4V198.3" stroke="#000060" stroke-width="1"/>
<rect x="808.0" y="189.4" width="7" height="2.9" fill="#0a0ae8" stroke="#00008a" stroke-width="0.6"/>
<path d="M821.5 196.3V224.0" stroke="#000060" stroke-width="1"/>
<rect x="818.0" y="197.0" width="7" height="23.6" fill="#0a0ae8" stroke="#00008a" stroke-width="0.6"/>
<path d="M831.5 219.2V240.3" stroke="#000060" stroke-width="1"/>
<rect x="828.0" y="224.0" width="7" height="6.6" fill="#0a0ae8" stroke="#00008a" stroke-width="0.6"/>
<path d="M841.5 220.3V240.9M838.0 236.9H845.0" stroke="#101050" stroke-width="1.4"/>
<path d="M851.5 231.8V284.1" stroke="#000060" stroke-width="1"/>
<rect x="848.0" y="236.4" width="7" height="47.7" fill="#0a0ae8" stroke="#00008a" stroke-width="0.6"/>
<path d="M861.5 250.6V277.2" stroke="#7a1a1a" stroke-width="1"/>
<rect x="858.0" y="253.2" width="7" height="24.0" fill="#f21010" stroke="#c00000" stroke-width="0.6"/>
<path d="M871.5 243.3V266.0" stroke="#7a1a1a" stroke-width="1"/>
<rect x="868.0" y="243.3" width="7" height="4.4" fill="#f21010" stroke="#c00000" stroke-width="0.6"/>
<path d="M881.5 242.6V266.0" stroke="#000060" stroke-width="1"/>
<rect x="878.0" y="244.3" width="7" height="13.2" fill="#0a0ae8" stroke="#00008a" stroke-width="0.6"/>
<path d="M891.5 257.5V275.5" stroke="#7a1a1a" stroke-width="1"/>
<rect x="888.0" y="257.5" width="7" height="6.9" fill="#f21010" stroke="#c00000" stroke-width="0.6"/>
<path d="M901.5 245.6V268.0" stroke="#7a1a1a" stroke-width="1"/>
<rect x="898.0" y="251.0" width="7" height="9.6" fill="#f21010" stroke="#c00000" stroke-width="0.6"/>
<path d="M911.5 231.2V253.5" stroke="#7a1a1a" stroke-width="1"/>
<rect x="908.0" y="236.5" width="7" height="15.2" fill="#f21010" stroke="#c00000" stroke-width="0.6"/>
<path d="M921.5 224.3V239.2" stroke="#7a1a1a" stroke-width="1"/>
<rect x="918.0" y="226.9" width="7" height="10.3" fill="#f21010" stroke="#c00000" stroke-width="0.6"/>
<path d="M931.5 213.3V224.8" stroke="#7a1a1a" stroke-width="1"/>
<rect x="928.0" y="218.3" width="7" height="6.5" fill="#f21010" stroke="#c00000" stroke-width="0.6"/>
<path d="M941.5 215.7V238.6" stroke="#000060" stroke-width="1"/>
<rect x="938.0" y="215.7" width="7" height="19.8" fill="#0a0ae8" stroke="#00008a" stroke-width="0.6"/>
<path d="M951.5 243.5V254.3" stroke="#101050" stroke-width="1.2"/>
<rect x="948.0" y="243.5" width="7" height="1.8" fill="#0a0ae8"/>
<path d="M961.5 232.0V244.9" stroke="#000060" stroke-width="1"/>
<rect x="958.0" y="241.5" width="7" height="3.4" fill="#0a0ae8" stroke="#00008a" stroke-width="0.6"/>
<path d="M971.5 246.1V274.6" stroke="#000060" stroke-width="1"/>
<rect x="968.0" y="246.1" width="7" height="28.5" fill="#0a0ae8" stroke="#00008a" stroke-width="0.6"/>
<path d="M981.5 274.1V293.4" stroke="#000060" stroke-width="1"/>
<rect x="978.0" y="280.0" width="7" height="8.6" fill="#0a0ae8" stroke="#00008a" stroke-width="0.6"/>
<path d="M991.5 283.5V302.9" stroke="#000060" stroke-width="1"/>
<rect x="988.0" y="287.3" width="7" height="9.6" fill="#0a0ae8" stroke="#00008a" stroke-width="0.6"/>
<path d="M1001.5 269.4V298.6" stroke="#7a1a1a" stroke-width="1"/>
<rect x="998.0" y="271.2" width="7" height="24.3" fill="#f21010" stroke="#c00000" stroke-width="0.6"/>
<path d="M1011.5 257.4V281.4" stroke="#7a1a1a" stroke-width="1"/>
<rect x="1008.0" y="262.0" width="7" height="7.8" fill="#f21010" stroke="#c00000" stroke-width="0.6"/>
<path d="M1021.5 258.1V279.2" stroke="#000060" stroke-width="1"/>
<rect x="1018.0" y="260.3" width="7" height="16.3" fill="#0a0ae8" stroke="#00008a" stroke-width="0.6"/>
<path d="M1031.5 276.6V293.4" stroke="#000060" stroke-width="1"/>
<rect x="1028.0" y="279.2" width="7" height="5.7" fill="#0a0ae8" stroke="#00008a" stroke-width="0.6"/>
<path d="M1041.5 272.3V285.2" stroke="#000060" stroke-width="1"/>
<rect x="1038.0" y="278.4" width="7" height="5.4" fill="#0a0ae8" stroke="#00008a" stroke-width="0.6"/>
<path d="M1051.5 288.3V307.2" stroke="#000060" stroke-width="1"/>
<rect x="1048.0" y="288.3" width="7" height="14.1" fill="#0a0ae8" stroke="#00008a" stroke-width="0.6"/>
<path d="M1061.5 303.0V321.5" stroke="#000060" stroke-width="1"/>
<rect x="1058.0" y="306.8" width="7" height="14.7" fill="#0a0ae8" stroke="#00008a" stroke-width="0.6"/>
<path d="M1071.5 317.3V344.5" stroke="#000060" stroke-width="1"/>
<rect x="1068.0" y="319.8" width="7" height="10.0" fill="#0a0ae8" stroke="#00008a" stroke-width="0.6"/>
<path d="M1081.5 334.0V369.6M1078.0 334.8H1085.0" stroke="#101050" stroke-width="1.6"/>
<path d="M1091.5 335.7V354.0M1088.0 340.3H1095.0" stroke="#b01818" stroke-width="1.6"/>
<path d="M1101.5 328.2V356.6" stroke="#000060" stroke-width="1"/>
<rect x="1098.0" y="336.1" width="7" height="20.5" fill="#0a0ae8" stroke="#00008a" stroke-width="0.6"/>
<path d="M1111.5 336.1V359.6" stroke="#7a1a1a" stroke-width="1"/>
<rect x="1108.0" y="336.1" width="7" height="20.5" fill="#f21010" stroke="#c00000" stroke-width="0.6"/>
<path d="M1121.5 329.4V346.2" stroke="#000060" stroke-width="1"/>
<rect x="1118.0" y="336.1" width="7" height="4.2" fill="#0a0ae8" stroke="#00008a" stroke-width="0.6"/>
<path d="M1131.5 320.9V339.3M1128.0 337.2H1135.0" stroke="#101050" stroke-width="1.4"/>
<path d="M1141.5 343.5V365.4" stroke="#000060" stroke-width="1"/>
<rect x="1138.0" y="343.5" width="7" height="19.9" fill="#0a0ae8" stroke="#00008a" stroke-width="0.6"/>
<path d="M1151.5 354.6V383.2" stroke="#000060" stroke-width="1"/>
<rect x="1148.0" y="365.4" width="7" height="14.7" fill="#0a0ae8" stroke="#00008a" stroke-width="0.6"/>
<path d="M1161.5 372.8V397.6" stroke="#7a1a1a" stroke-width="1"/>
<rect x="1158.0" y="372.8" width="7" height="12.5" fill="#f21010" stroke="#c00000" stroke-width="0.6"/>
<path d="M1171.5 360.2V373.8" stroke="#7a1a1a" stroke-width="1"/>
<rect x="1168.0" y="362.3" width="7" height="11.5" fill="#f21010" stroke="#c00000" stroke-width="0.6"/>
<path d="M1181.5 344.0V373.8" stroke="#7a1a1a" stroke-width="1"/>
<rect x="1178.0" y="347.0" width="7" height="18.9" fill="#f21010" stroke="#c00000" stroke-width="0.6"/>
<path d="M1191.5 341.4V359.2M1188.0 346.6H1195.0" stroke="#b01818" stroke-width="1.6"/>
<path d="M1201.5 341.3V361.5" stroke="#7a1a1a" stroke-width="1"/>
<rect x="1198.0" y="341.3" width="7" height="11.4" fill="#f21010" stroke="#c00000" stroke-width="0.6"/>
<path d="M1211.5 329.3V342.9" stroke="#7a1a1a" stroke-width="1"/>
<rect x="1208.0" y="329.3" width="7" height="7.7" fill="#f21010" stroke="#c00000" stroke-width="0.6"/>
<path d="M1221.5 322.3V334.0M1218.0 324.9H1225.0" stroke="#b01818" stroke-width="1.6"/>
<path d="M1231.5 318.0V336.1" stroke="#000060" stroke-width="1"/>
<rect x="1228.0" y="320.3" width="7" height="15.8" fill="#0a0ae8" stroke="#00008a" stroke-width="0.6"/>
<path d="M1241.5 312.0V339.1" stroke="#7a1a1a" stroke-width="1"/>
<rect x="1238.0" y="317.2" width="7" height="21.9" fill="#f21010" stroke="#c00000" stroke-width="0.6"/>
<path d="M1251.5 313.4V335.7" stroke="#000060" stroke-width="1"/>
<rect x="1248.0" y="315.5" width="7" height="9.4" fill="#0a0ae8" stroke="#00008a" stroke-width="0.6"/>
<path d="M1261.5 314.1V335.2" stroke="#7a1a1a" stroke-width="1"/>
<rect x="1258.0" y="314.1" width="7" height="14.8" fill="#f21010" stroke="#c00000" stroke-width="0.6"/>
<path d="M1271.5 305.1V320.6" stroke="#7a1a1a" stroke-width="1"/>
<rect x="1268.0" y="309.5" width="7" height="4.3" fill="#f21010" stroke="#c00000" stroke-width="0.6"/>
<path d="M1281.5 314.6V330.9" stroke="#000060" stroke-width="1"/>
<rect x="1278.0" y="316.3" width="7" height="9.5" fill="#0a0ae8" stroke="#00008a" stroke-width="0.6"/>
<path d="M1291.5 309.0V326.6" stroke="#000060" stroke-width="1"/>
<rect x="1288.0" y="321.5" width="7" height="5.1" fill="#0a0ae8" stroke="#00008a" stroke-width="0.6"/>
<path d="M1301.5 326.1V342.6" stroke="#000060" stroke-width="1"/>
<rect x="1298.0" y="332.3" width="7" height="7.2" fill="#0a0ae8" stroke="#00008a" stroke-width="0.6"/>
<path d="M1311.5 338.6V352.3" stroke="#000060" stroke-width="1"/>
<rect x="1308.0" y="338.6" width="7" height="11.2" fill="#0a0ae8" stroke="#00008a" stroke-width="0.6"/>
<path d="M1321.5 343.3V359.2" stroke="#000060" stroke-width="1"/>
<rect x="1318.0" y="348.9" width="7" height="7.4" fill="#0a0ae8" stroke="#00008a" stroke-width="0.6"/>
<path d="M1331.5 350.6V366.5" stroke="#000060" stroke-width="1"/>
<rect x="1328.0" y="355.3" width="7" height="7.9" fill="#0a0ae8" stroke="#00008a" stroke-width="0.6"/>
<path d="M1341.5 337.4V358.7" stroke="#7a1a1a" stroke-width="1"/>
<rect x="1338.0" y="345.0" width="7" height="13.7" fill="#f21010" stroke="#c00000" stroke-width="0.6"/>
<path d="M1351.5 342.9V356.6" stroke="#000060" stroke-width="1"/>
<rect x="1348.0" y="342.9" width="7" height="10.8" fill="#0a0ae8" stroke="#00008a" stroke-width="0.6"/>
<path d="M1361.5 347.5V359.5M1358.0 352.4H1365.0" stroke="#b01818" stroke-width="1.6"/>
<path d="M1371.5 341.4V358.5" stroke="#000060" stroke-width="1"/>
<rect x="1368.0" y="348.0" width="7" height="7.7" fill="#0a0ae8" stroke="#00008a" stroke-width="0.6"/>
<path d="M1381.5 348.0V367.6" stroke="#000060" stroke-width="1"/>
<rect x="1378.0" y="357.0" width="7" height="10.6" fill="#0a0ae8" stroke="#00008a" stroke-width="0.6"/>
<path d="M1391.5 354.3V367.6" stroke="#7a1a1a" stroke-width="1"/>
<rect x="1388.0" y="354.3" width="7" height="9.5" fill="#f21010" stroke="#c00000" stroke-width="0.6"/>
<path d="M1401.5 358.1V381.7" stroke="#000060" stroke-width="1"/>
<rect x="1398.0" y="358.1" width="7" height="23.6" fill="#0a0ae8" stroke="#00008a" stroke-width="0.6"/>
<path d="M1411.5 367.0V386.7" stroke="#000060" stroke-width="1"/>
<rect x="1408.0" y="376.0" width="7" height="5.4" fill="#0a0ae8" stroke="#00008a" stroke-width="0.6"/>
<path d="M1421.5 387.0V410.8" stroke="#101050" stroke-width="1.2"/>
<rect x="1418.0" y="387.0" width="7" height="3.5" fill="#0a0ae8"/>
<path d="M1431.5 380.4V395.6" stroke="#000060" stroke-width="1"/>
<rect x="1428.0" y="387.0" width="7" height="4.8" fill="#0a0ae8" stroke="#00008a" stroke-width="0.6"/>
<path d="M1441.5 386.1V422.3" stroke="#000060" stroke-width="1"/>
<rect x="1438.0" y="391.8" width="7" height="30.5" fill="#0a0ae8" stroke="#00008a" stroke-width="0.6"/>
<path d="M1451.5 426.0V511.4" stroke="#000060" stroke-width="1"/>
<rect x="1448.0" y="426.0" width="7" height="80.6" fill="#0a0ae8" stroke="#00008a" stroke-width="0.6"/>
<path d="M1461.5 464.3V502.5" stroke="#7a1a1a" stroke-width="1"/>
<rect x="1458.0" y="493.4" width="7" height="9.1" fill="#f21010" stroke="#c00000" stroke-width="0.6"/>
<path d="M1471.5 472.0V526.8" stroke="#000060" stroke-width="1"/>
<rect x="1468.0" y="490.0" width="7" height="36.8" fill="#0a0ae8" stroke="#00008a" stroke-width="0.6"/>
<path d="M1481.5 482.2V547.0" stroke="#7a1a1a" stroke-width="1"/>
<rect x="1478.0" y="497.3" width="7" height="32.1" fill="#f21010" stroke="#c00000" stroke-width="0.6"/>
<path d="M1491.5 466.8V507.6" stroke="#000060" stroke-width="1"/>
<rect x="1488.0" y="493.4" width="7" height="4.3" fill="#0a0ae8" stroke="#00008a" stroke-width="0.6"/>
<path d="M1501.5 480.2V510.5" stroke="#000060" stroke-width="1"/>
<rect x="1498.0" y="492.2" width="7" height="8.6" fill="#0a0ae8" stroke="#00008a" stroke-width="0.6"/>
<path d="M1511.5 491.2V534.5" stroke="#000060" stroke-width="1"/>
<rect x="1508.0" y="503.2" width="7" height="15.4" fill="#0a0ae8" stroke="#00008a" stroke-width="0.6"/>
<path d="M1521.5 499.0V514.5" stroke="#7a1a1a" stroke-width="1"/>
<rect x="1518.0" y="499.0" width="7" height="15.5" fill="#f21010" stroke="#c00000" stroke-width="0.6"/>
<text transform="scale(0.74,1)" x="54.05 62.16 70.27 78.38 86.49" y="222.3" font-size="12" fill="#5e1a1a" text-anchor="middle" font-family='"Liberation Sans","IPAGothic","Noto Sans CJK JP",sans-serif' stroke="#5e1a1a" stroke-width="0.35">02/11</text>
<text transform="scale(0.74,1)" x="54.05 62.16 70.27 78.38 86.49 94.59 102.70 110.81" y="234.3" font-size="12" fill="#5e1a1a" text-anchor="middle" font-family='"Liberation Sans","IPAGothic","Noto Sans CJK JP",sans-serif' stroke="#5e1a1a" stroke-width="0.35">16777.37</text>
<text transform="scale(0.74,1)" x="161.62 169.73 177.84 185.95 194.05" y="196.6" font-size="12" fill="#5e1a1a" text-anchor="middle" font-family='"Liberation Sans","IPAGothic","Noto Sans CJK JP",sans-serif' stroke="#5e1a1a" stroke-width="0.35">04/08</text>
<text transform="scale(0.74,1)" x="161.62 169.73 177.84 185.95 194.05 202.16 210.27 218.38" y="208.6" font-size="12" fill="#5e1a1a" text-anchor="middle" font-family='"Liberation Sans","IPAGothic","Noto Sans CJK JP",sans-serif' stroke="#5e1a1a" stroke-width="0.35">17563.37</text>
<text transform="scale(0.74,1)" x="10.81 18.92 27.03 35.14 43.24 51.35 59.46 67.57" y="301.2" font-size="12" fill="#5e1a1a" text-anchor="middle" font-family='"Liberation Sans","IPAGothic","Noto Sans CJK JP",sans-serif' stroke="#5e1a1a" stroke-width="0.35">15059.52</text>
<text transform="scale(0.74,1)" x="10.81 18.92 27.03 35.14 43.24" y="313.2" font-size="12" fill="#5e1a1a" text-anchor="middle" font-family='"Liberation Sans","IPAGothic","Noto Sans CJK JP",sans-serif' stroke="#5e1a1a" stroke-width="0.35">01/21</text>
<text transform="scale(0.74,1)" x="297.97 306.08 314.19 322.30 330.41 338.51 346.62 354.73" y="332.6" font-size="12" fill="#5e1a1a" text-anchor="middle" font-family='"Liberation Sans","IPAGothic","Noto Sans CJK JP",sans-serif' stroke="#5e1a1a" stroke-width="0.35">14045.52</text>
<text transform="scale(0.74,1)" x="297.97 306.08 314.19 322.30 330.41" y="344.6" font-size="12" fill="#5e1a1a" text-anchor="middle" font-family='"Liberation Sans","IPAGothic","Noto Sans CJK JP",sans-serif' stroke="#5e1a1a" stroke-width="0.35">06/17</text>
<text transform="scale(0.74,1)" x="365.54 373.65 381.76 389.86 397.97 406.08 414.19 422.30" y="319.6" font-size="12" fill="#5e1a1a" text-anchor="middle" font-family='"Liberation Sans","IPAGothic","Noto Sans CJK JP",sans-serif' stroke="#5e1a1a" stroke-width="0.35">14437.24</text>
<text transform="scale(0.74,1)" x="365.54 373.65 381.76 389.86 397.97" y="331.6" font-size="12" fill="#5e1a1a" text-anchor="middle" font-family='"Liberation Sans","IPAGothic","Noto Sans CJK JP",sans-serif' stroke="#5e1a1a" stroke-width="0.35">07/22</text>
<text transform="scale(0.74,1)" x="500.00 508.11 516.22 524.32 532.43 540.54 548.65 556.76" y="285.8" font-size="12" fill="#5e1a1a" text-anchor="middle" font-family='"Liberation Sans","IPAGothic","Noto Sans CJK JP",sans-serif' stroke="#5e1a1a" stroke-width="0.35">15513.87</text>
<text transform="scale(0.74,1)" x="500.00 508.11 516.22 524.32 532.43" y="297.8" font-size="12" fill="#5e1a1a" text-anchor="middle" font-family='"Liberation Sans","IPAGothic","Noto Sans CJK JP",sans-serif' stroke="#5e1a1a" stroke-width="0.35">09/30</text>
<text transform="scale(0.74,1)" x="555.00 563.11 571.22 579.32 587.43" y="218.1" font-size="12" fill="#5e1a1a" text-anchor="middle" font-family='"Liberation Sans","IPAGothic","Noto Sans CJK JP",sans-serif' stroke="#5e1a1a" stroke-width="0.35">10/28</text>
<text transform="scale(0.74,1)" x="555.00 563.11 571.22 579.32 587.43 595.54 603.65 611.76" y="230.1" font-size="12" fill="#5e1a1a" text-anchor="middle" font-family='"Liberation Sans","IPAGothic","Noto Sans CJK JP",sans-serif' stroke="#5e1a1a" stroke-width="0.35">16901.53</text>
<text transform="scale(0.74,1)" x="621.89 630.00 638.11 646.22 654.32 662.43 670.54 678.65" y="283.8" font-size="12" fill="#5e1a1a" text-anchor="middle" font-family='"Liberation Sans","IPAGothic","Noto Sans CJK JP",sans-serif' stroke="#5e1a1a" stroke-width="0.35">15615.56</text>
<text transform="scale(0.74,1)" x="621.89 630.00 638.11 646.22 654.32" y="295.8" font-size="12" fill="#5e1a1a" text-anchor="middle" font-family='"Liberation Sans","IPAGothic","Noto Sans CJK JP",sans-serif' stroke="#5e1a1a" stroke-width="0.35">12/02</text>
<text transform="scale(0.74,1)" x="797.57 805.68 813.78 821.89 830.00" y="174.0" font-size="12" fill="#5e1a1a" text-anchor="middle" font-family='"Liberation Sans","IPAGothic","Noto Sans CJK JP",sans-serif' stroke="#5e1a1a" stroke-width="0.35">03/03</text>
<text transform="scale(0.74,1)" x="797.57 805.68 813.78 821.89 830.00 838.11 846.22 854.32" y="186.0" font-size="12" fill="#5e1a1a" text-anchor="middle" font-family='"Liberation Sans","IPAGothic","Noto Sans CJK JP",sans-serif' stroke="#5e1a1a" stroke-width="0.35">18300.39</text>
<text transform="scale(0.74,1)" x="811.49 819.59 827.70 835.81 843.92 852.03 860.14 868.24" y="254.6" font-size="12" fill="#5e1a1a" text-anchor="middle" font-family='"Liberation Sans","IPAGothic","Noto Sans CJK JP",sans-serif' stroke="#5e1a1a" stroke-width="0.35">16532.91</text>
<text transform="scale(0.74,1)" x="811.49 819.59 827.70 835.81 843.92" y="266.6" font-size="12" fill="#5e1a1a" text-anchor="middle" font-family='"Liberation Sans","IPAGothic","Noto Sans CJK JP",sans-serif' stroke="#5e1a1a" stroke-width="0.35">03/10</text>
<text transform="scale(0.74,1)" x="1012.97 1021.08 1029.19 1037.30 1045.41" y="172.6" font-size="12" fill="#5e1a1a" text-anchor="middle" font-family='"Liberation Sans","IPAGothic","Noto Sans CJK JP",sans-serif' stroke="#5e1a1a" stroke-width="0.35">06/23</text>
<text transform="scale(0.74,1)" x="1012.97 1021.08 1029.19 1037.30 1045.41 1053.51 1061.62 1069.73" y="184.6" font-size="12" fill="#5e1a1a" text-anchor="middle" font-family='"Liberation Sans","IPAGothic","Noto Sans CJK JP",sans-serif' stroke="#5e1a1a" stroke-width="0.35">18297.00</text>
<text transform="scale(0.74,1)" x="1121.89 1130.00 1138.11 1146.22 1154.32 1162.43 1170.54 1178.65" y="294.1" font-size="12" fill="#5e1a1a" text-anchor="middle" font-family='"Liberation Sans","IPAGothic","Noto Sans CJK JP",sans-serif' stroke="#5e1a1a" stroke-width="0.35">15262.10</text>
<text transform="scale(0.74,1)" x="1121.89 1130.00 1138.11 1146.22 1154.32" y="306.1" font-size="12" fill="#5e1a1a" text-anchor="middle" font-family='"Liberation Sans","IPAGothic","Noto Sans CJK JP",sans-serif' stroke="#5e1a1a" stroke-width="0.35">08/18</text>
<text transform="scale(0.74,1)" x="1230.68 1238.78 1246.89 1255.00 1263.11" y="199.5" font-size="12" fill="#5e1a1a" text-anchor="middle" font-family='"Liberation Sans","IPAGothic","Noto Sans CJK JP",sans-serif' stroke="#5e1a1a" stroke-width="0.35">10/13</text>
<text transform="scale(0.74,1)" x="1230.68 1238.78 1246.89 1255.00 1263.11 1271.22 1279.32 1287.43" y="211.5" font-size="12" fill="#5e1a1a" text-anchor="middle" font-family='"Liberation Sans","IPAGothic","Noto Sans CJK JP",sans-serif' stroke="#5e1a1a" stroke-width="0.35">17488.97</text>
<text transform="scale(0.74,1)" x="1311.89 1320.00 1328.11 1336.22 1344.32 1352.43 1360.54 1368.65" y="313.6" font-size="12" fill="#5e1a1a" text-anchor="middle" font-family='"Liberation Sans","IPAGothic","Noto Sans CJK JP",sans-serif' stroke="#5e1a1a" stroke-width="0.35">14669.85</text>
<text transform="scale(0.74,1)" x="1311.89 1320.00 1328.11 1336.22 1344.32" y="325.6" font-size="12" fill="#5e1a1a" text-anchor="middle" font-family='"Liberation Sans","IPAGothic","Noto Sans CJK JP",sans-serif' stroke="#5e1a1a" stroke-width="0.35">11/24</text>
<text transform="scale(0.74,1)" x="1499.32 1507.43 1515.54 1523.65 1531.76" y="307.0" font-size="12" fill="#5e1a1a" text-anchor="middle" font-family='"Liberation Sans","IPAGothic","Noto Sans CJK JP",sans-serif' stroke="#5e1a1a" stroke-width="0.35">02/28</text>
<text transform="scale(0.74,1)" x="1499.32 1507.43 1515.54 1523.65 1531.76 1539.86 1547.97 1556.08" y="319.0" font-size="12" fill="#5e1a1a" text-anchor="middle" font-family='"Liberation Sans","IPAGothic","Noto Sans CJK JP",sans-serif' stroke="#5e1a1a" stroke-width="0.35">14105.47</text>
<text transform="scale(0.74,1)" x="1432.84 1440.95 1449.05 1457.16 1465.27 1473.38 1481.49 1489.59" y="379.3" font-size="12" fill="#5e1a1a" text-anchor="middle" font-family='"Liberation Sans","IPAGothic","Noto Sans CJK JP",sans-serif' stroke="#5e1a1a" stroke-width="0.35">12572.68</text>
<text transform="scale(0.74,1)" x="1432.84 1440.95 1449.05 1457.16 1465.27" y="391.3" font-size="12" fill="#5e1a1a" text-anchor="middle" font-family='"Liberation Sans","IPAGothic","Noto Sans CJK JP",sans-serif' stroke="#5e1a1a" stroke-width="0.35">01/26</text>
<text transform="scale(0.74,1)" x="1541.22 1549.32 1557.43 1565.54 1573.65 1581.76 1589.86 1597.97" y="407.6" font-size="12" fill="#5e1a1a" text-anchor="middle" font-family='"Liberation Sans","IPAGothic","Noto Sans CJK JP",sans-serif' stroke="#5e1a1a" stroke-width="0.35">11691.00</text>
<text transform="scale(0.74,1)" x="1541.22 1549.32 1557.43 1565.54 1573.65" y="419.6" font-size="12" fill="#5e1a1a" text-anchor="middle" font-family='"Liberation Sans","IPAGothic","Noto Sans CJK JP",sans-serif' stroke="#5e1a1a" stroke-width="0.35">03/22</text>
<text transform="scale(0.74,1)" x="1688.78 1696.89 1705.00 1713.11 1721.22" y="291.5" font-size="12" fill="#5e1a1a" text-anchor="middle" font-family='"Liberation Sans","IPAGothic","Noto Sans CJK JP",sans-serif' stroke="#5e1a1a" stroke-width="0.35">06/07</text>
<text transform="scale(0.74,1)" x="1688.78 1696.89 1705.00 1713.11 1721.22 1729.32 1737.43 1745.54" y="303.5" font-size="12" fill="#5e1a1a" text-anchor="middle" font-family='"Liberation Sans","IPAGothic","Noto Sans CJK JP",sans-serif' stroke="#5e1a1a" stroke-width="0.35">14601.27</text>
<text transform="scale(0.74,1)" x="1769.86 1777.97 1786.08 1794.19 1802.30 1810.41 1818.51 1826.62" y="377.6" font-size="12" fill="#5e1a1a" text-anchor="middle" font-family='"Liberation Sans","IPAGothic","Noto Sans CJK JP",sans-serif' stroke="#5e1a1a" stroke-width="0.35">12671.34</text>
<text transform="scale(0.74,1)" x="1769.86 1777.97 1786.08 1794.19 1802.30" y="389.6" font-size="12" fill="#5e1a1a" text-anchor="middle" font-family='"Liberation Sans","IPAGothic","Noto Sans CJK JP",sans-serif' stroke="#5e1a1a" stroke-width="0.35">07/19</text>
<text transform="scale(0.74,1)" x="1976.49 1984.59 1992.70 2000.81 2008.92 2017.03 2025.14" y="556.8" font-size="12" fill="#5e1a1a" text-anchor="middle" font-family='"Liberation Sans","IPAGothic","Noto Sans CJK JP",sans-serif' stroke="#5e1a1a" stroke-width="0.35">6994.90</text>
<text transform="scale(0.74,1)" x="1976.49 1984.59 1992.70 2000.81 2008.92" y="568.8" font-size="12" fill="#5e1a1a" text-anchor="middle" font-family='"Liberation Sans","IPAGothic","Noto Sans CJK JP",sans-serif' stroke="#5e1a1a" stroke-width="0.35">10/30</text>
</g>
<text transform="scale(0.78,1)" x="50.00 57.69 65.38 73.08 103.85 119.23 126.92 134.62 142.31 150.00 157.69 165.38 173.08 180.77 188.46 203.85 219.23 226.92 234.62 242.31 250.00 257.69 265.38 273.08 280.77 288.46 303.85" y="128.5" font-size="12" fill="#000" text-anchor="middle" font-family='"Liberation Sans","IPAGothic","Noto Sans CJK JP",sans-serif'>225(,2004/02/21-2008/11/28)</text><text x="18.0 30.0 72.0" y="129.0" font-size="12" fill="#000" text-anchor="middle" font-family='"Liberation Sans","IPAGothic","Noto Sans CJK JP",sans-serif'>日経週</text>
<text transform="scale(0.78,1)" x="475.64 491.03 498.72 506.41 514.10 521.79 529.49 544.87 552.56 560.26 575.64 583.33 591.03 598.72 614.10 621.79 629.49 637.18 644.87 660.26 675.64" y="128.5" font-size="12" fill="#000" text-anchor="middle" font-family='"Liberation Sans","IPAGothic","Noto Sans CJK JP",sans-serif'>(Close,20,2.0,-2.0,0)</text><text x="266.0 278.0 290.0 302.0 314.0 326.0 338.0 350.0 362.0" y="129.0" font-size="12" fill="#000" text-anchor="middle" font-family='"Liberation Sans","IPAGothic","Noto Sans CJK JP",sans-serif'>ボリンジャーバンド</text>
<text transform="scale(0.78,1)" x="770.51 785.90 793.59 801.28 808.97 816.67 824.36 839.74 847.44 862.82" y="128.5" font-size="12" fill="#000" text-anchor="middle" font-family='"Liberation Sans","IPAGothic","Noto Sans CJK JP",sans-serif'>(Close,25)</text><text x="556.0 568.0 580.0 592.0" y="129.0" font-size="12" fill="#000" text-anchor="middle" font-family='"Liberation Sans","IPAGothic","Noto Sans CJK JP",sans-serif'>移動平均</text>
<text transform="scale(0.78,1)" x="957.69 973.08 980.77 988.46 996.15 1003.85 1011.54 1026.92 1034.62 1050.00" y="128.5" font-size="12" fill="#000" text-anchor="middle" font-family='"Liberation Sans","IPAGothic","Noto Sans CJK JP",sans-serif'>(Close,75)</text><text x="702.0 714.0 726.0 738.0" y="129.0" font-size="12" fill="#000" text-anchor="middle" font-family='"Liberation Sans","IPAGothic","Noto Sans CJK JP",sans-serif'>移動平均</text>
<text x="848.0 860.0 872.0 884.0 896.0 908.0 920.0 932.0" y="129.0" font-size="12" fill="#000" text-anchor="middle" font-family='"Liberation Sans","IPAGothic","Noto Sans CJK JP",sans-serif'>期間高安表示機能</text>
<path d="M9 649.5H1521" stroke="#1c1c5a" stroke-width="1.2"/>
<path d="M9 694.5H1521" stroke="#c89a5a" stroke-width="1.2"/>
<path d="M9 731.5H1521" stroke="#7a2034" stroke-width="1.2"/>
<clipPath id="cr"><rect x="9" y="625" width="1526" height="137"/></clipPath>
<polyline clip-path="url(#cr)" points="9.0,642.7 11.5,642.7 21.5,642.7 31.5,664.5 41.5,657.6 51.5,656.7 61.5,664.5 71.5,677.8 81.5,673.4 91.5,680.7 101.5,676.5 111.5,673.4 121.5,671.3 131.5,665.8 141.5,661.4 151.5,668.2 161.5,666.5 171.5,675.6 181.5,673.9 191.5,684.2 201.5,691.0 211.5,693.6 221.5,697.9 231.5,709.9 241.5,708.2 251.5,704.2 261.5,698.6 271.5,699.5 281.5,707.0 291.5,707.3 301.5,697.9 311.5,695.0 321.5,693.6 331.5,685.4 341.5,688.5 351.5,685.4 361.5,686.4 371.5,691.0 381.5,695.0 391.5,685.9 401.5,680.7 411.5,679.5 421.5,678.2 431.5,678.2 441.5,686.7 451.5,691.0 461.5,692.8 471.5,698.8 481.5,687.6 491.5,685.0 501.5,677.3 511.5,674.7 521.5,673.0 531.5,675.8 541.5,677.5 551.5,672.2 561.5,671.0 571.5,668.7 581.5,670.5 591.5,664.5 601.5,660.2 611.5,685.9 621.5,688.5 631.5,695.3 641.5,684.2 651.5,687.1 661.5,684.2 671.5,685.9 681.5,685.0 691.5,685.9 701.5,685.9 711.5,683.3 721.5,687.1 731.5,685.0 741.5,676.5 751.5,680.7 761.5,677.3 771.5,673.4 781.5,675.1 791.5,675.1 801.5,673.2 811.5,676.5 821.5,700.5 831.5,705.6 841.5,710.8 851.5,730.0 861.5,709.0 871.5,703.9 881.5,709.0 891.5,709.0 901.5,705.6 911.5,697.9 921.5,692.8 931.5,688.8 941.5,697.9 951.5,701.3 961.5,701.3 971.5,713.3 981.5,717.6 991.5,721.1 1001.5,705.6 1011.5,703.0 1021.5,707.0 1031.5,709.9 1041.5,709.0 1051.5,716.8 1061.5,722.4 1071.5,724.3 1081.5,726.2 1091.5,727.6 1101.5,730.5 1111.5,718.0 1121.5,719.0 1131.5,717.6 1141.5,725.3 1151.5,730.0 1161.5,724.5 1171.5,719.0 1181.5,709.4 1191.5,708.7 1201.5,706.5 1211.5,699.1 1221.5,695.3 1231.5,702.2 1241.5,692.8 1251.5,695.3 1261.5,691.0 1271.5,688.8 1281.5,697.0 1291.5,697.0 1301.5,703.0 1311.5,707.7 1321.5,710.4 1331.5,713.8 1341.5,703.7 1351.5,706.3 1361.5,705.2 1371.5,707.0 1381.5,712.3 1391.5,703.7 1401.5,714.8 1411.5,715.4 1421.5,718.0 1431.5,719.5 1441.5,729.7 1451.5,743.1 1461.5,736.8 1471.5,741.0 1481.5,726.1 1491.5,726.6 1501.5,727.3 1511.5,730.2 1521.5,721.6" fill="none" stroke="#e8742c" stroke-width="3" stroke-linejoin="round"/>
<text transform="scale(0.78,1)" x="19.23 26.92 34.62 42.31 57.69 65.38 73.08 80.77 88.46 96.15 111.54 119.23 126.92 142.31 150.00 157.69 173.08 180.77 196.15" y="636.5" font-size="12" fill="#000" text-anchor="middle" font-family='"Liberation Sans","IPAGothic","Noto Sans CJK JP",sans-serif'>RSI(Close,14,25,80)</text>
<path d="M9 788.5H1521M9 833.5H1521" stroke="#c8c8c8" stroke-width="1"/>
<polyline points="9.0,788.3 11.5,788.3 21.5,780.8 31.5,788.3 41.5,788.3 51.5,788.3 61.5,795.8 71.5,803.3 81.5,803.3 91.5,803.3 101.5,795.8 111.5,795.8 121.5,795.8 131.5,795.8 141.5,795.8 151.5,795.8 161.5,795.8 171.5,803.3 181.5,795.8 191.5,795.8 201.5,803.3 211.5,803.3 221.5,810.8 231.5,818.4 241.5,818.4 251.5,818.4 261.5,818.4 271.5,818.4 281.5,825.9 291.5,825.9 301.5,825.9 311.5,818.4 321.5,810.8 331.5,803.3 341.5,803.3 351.5,795.8 361.5,803.3 371.5,810.8 381.5,818.4 391.5,810.8 401.5,803.3 411.5,795.8 421.5,795.8 431.5,795.8 441.5,803.3 451.5,810.8 461.5,810.8 471.5,818.4 481.5,810.8 491.5,803.3 501.5,795.8 511.5,795.8 521.5,795.8 531.5,803.3 541.5,810.8 551.5,810.8 561.5,803.3 571.5,795.8 581.5,795.8 591.5,788.3 601.5,788.3 611.5,795.8 621.5,803.3 631.5,810.8 641.5,810.8 651.5,810.8 661.5,803.3 671.5,810.8 681.5,810.8 691.5,818.4 701.5,818.4 711.5,818.4 721.5,825.9 731.5,818.4 741.5,810.8 751.5,810.8 761.5,810.8 771.5,803.3 781.5,810.8 791.5,803.3 801.5,803.3 811.5,803.3 821.5,803.3 831.5,810.8 841.5,810.8 851.5,818.4 861.5,818.4 871.5,810.8 881.5,818.4 891.5,818.4 901.5,810.8 911.5,810.8 921.5,810.8 931.5,803.3 941.5,803.3 951.5,803.3 961.5,795.8 971.5,795.8 981.5,803.3 991.5,810.8 1001.5,803.3 1011.5,803.3 1021.5,810.8 1031.5,818.4 1041.5,818.4 1051.5,825.9 1061.5,825.9 1071.5,825.9 1081.5,833.4 1091.5,833.4 1101.5,833.4 1111.5,825.9 1121.5,833.4 1131.5,833.4 1141.5,833.4 1151.5,833.4 1161.5,833.4 1171.5,825.9 1181.5,818.4 1191.5,810.8 1201.5,803.3 1211.5,795.8 1221.5,788.3 1231.5,795.8 1241.5,788.3 1251.5,795.8 1261.5,788.3 1271.5,780.8 1281.5,788.3 1291.5,795.8 1301.5,803.3 1311.5,810.8 1321.5,818.4 1331.5,825.9 1341.5,825.9 1351.5,825.9 1361.5,825.9 1371.5,825.9 1381.5,833.4 1391.5,833.4 1401.5,833.4 1411.5,825.9 1421.5,825.9 1431.5,825.9 1441.5,825.9 1451.5,825.9 1461.5,825.9 1471.5,825.9 1481.5,825.9 1491.5,818.4 1501.5,818.4 1511.5,825.9 1521.5,818.4" fill="none" stroke="#5a1616" stroke-width="1.1"/>
<text transform="scale(0.78,1)" x="173.08 188.46 196.15 203.85 219.23 226.92 234.62 250.00 257.69 273.08" y="774.5" font-size="12" fill="#000" text-anchor="middle" font-family='"Liberation Sans","IPAGothic","Noto Sans CJK JP",sans-serif'>(12,75,25)</text><text x="18.0 30.0 42.0 54.0 66.0 78.0 90.0 102.0 114.0 126.0" y="775.0" font-size="12" fill="#000" text-anchor="middle" font-family='"Liberation Sans","IPAGothic","Noto Sans CJK JP",sans-serif'>サイコロジカルライン</text>
<path d="M9 892.5H1521" stroke="#b09080" stroke-width="1"/>
<path d="M11.5 892.5V887.5M21.5 892.5V887.8M31.5 892.5V889.0M41.5 892.5V889.9M51.5 892.5V890.0M61.5 892.5V891.1M81.5 892.5V893.3M91.5 892.5V894.8M101.5 892.5V895.1M111.5 892.5V895.0M121.5 892.5V894.4M181.5 892.5V893.4M191.5 892.5V893.8M201.5 892.5V895.9M211.5 892.5V896.8M221.5 892.5V897.6M231.5 892.5V899.9M241.5 892.5V901.6M251.5 892.5V901.0M261.5 892.5V899.8M271.5 892.5V900.2M281.5 892.5V899.9M291.5 892.5V900.0M301.5 892.5V898.4M311.5 892.5V896.5M321.5 892.5V894.9M401.5 892.5V890.6M411.5 892.5V889.5M421.5 892.5V889.3M431.5 892.5V890.0M441.5 892.5V890.8M501.5 892.5V891.2M511.5 892.5V890.7M521.5 892.5V890.2M531.5 892.5V890.0M541.5 892.5V890.4M551.5 892.5V890.6M561.5 892.5V890.3M571.5 892.5V890.3M581.5 892.5V890.3M591.5 892.5V890.1M601.5 892.5V889.9M611.5 892.5V891.2M701.5 892.5V893.3M711.5 892.5V893.7M721.5 892.5V894.1M731.5 892.5V894.2M741.5 892.5V893.6M811.5 892.5V893.3M821.5 892.5V894.6M831.5 892.5V895.4M841.5 892.5V896.6M851.5 892.5V898.4M861.5 892.5V898.9M871.5 892.5V898.1M881.5 892.5V899.2M891.5 892.5V898.8M901.5 892.5V897.4M911.5 892.5V895.9M921.5 892.5V894.0M971.5 892.5V893.5M981.5 892.5V894.4M991.5 892.5V896.4M1001.5 892.5V895.4M1011.5 892.5V894.5M1021.5 892.5V894.4M1031.5 892.5V894.0M1041.5 892.5V893.5M1051.5 892.5V894.2M1061.5 892.5V895.1M1071.5 892.5V895.7M1081.5 892.5V896.2M1091.5 892.5V896.9M1101.5 892.5V897.4M1111.5 892.5V896.4M1121.5 892.5V895.4M1131.5 892.5V894.9M1141.5 892.5V895.7M1151.5 892.5V896.4M1161.5 892.5V896.3M1171.5 892.5V894.3M1191.5 892.5V891.6M1201.5 892.5V890.8M1211.5 892.5V889.4M1221.5 892.5V888.0M1231.5 892.5V887.2M1241.5 892.5V886.3M1251.5 892.5V885.9M1261.5 892.5V885.8M1271.5 892.5V885.8M1281.5 892.5V886.4M1291.5 892.5V887.5M1301.5 892.5V888.6M1311.5 892.5V890.4M1321.5 892.5V891.3M1331.5 892.5V891.6M1391.5 892.5V893.4M1401.5 892.5V894.0M1411.5 892.5V894.6M1421.5 892.5V894.7M1431.5 892.5V895.2M1441.5 892.5V897.4M1451.5 892.5V900.1M1461.5 892.5V902.6M1471.5 892.5V905.2M1481.5 892.5V904.2M1491.5 892.5V902.6M1501.5 892.5V901.6M1511.5 892.5V900.5M1521.5 892.5V899.0" stroke="#9a3030" stroke-width="1.3" fill="none"/>
<polyline points="9.0,865.3 11.5,865.1 21.5,864.4 31.5,864.4 41.5,864.4 51.5,864.4 61.5,865.3 71.5,867.5 81.5,868.7 91.5,871.0 101.5,872.2 111.5,872.2 121.5,871.8 131.5,870.4 141.5,870.4 151.5,870.4 161.5,870.4 171.5,870.4 181.5,872.2 191.5,873.5 201.5,876.4 211.5,879.0 221.5,881.1 231.5,885.0 241.5,889.0 251.5,891.0 261.5,891.5 271.5,893.2 281.5,894.6 291.5,896.3 301.5,896.3 311.5,895.5 321.5,894.9 331.5,892.9 341.5,892.0 351.5,891.5 361.5,891.4 371.5,891.3 381.5,891.3 391.5,891.0 401.5,889.5 411.5,887.9 421.5,886.8 431.5,886.6 441.5,886.4 451.5,887.4 461.5,888.5 471.5,889.1 481.5,889.0 491.5,887.9 501.5,886.9 511.5,885.9 521.5,884.9 531.5,884.1 541.5,883.7 551.5,883.3 561.5,882.6 571.5,881.9 581.5,881.2 591.5,880.3 601.5,879.3 611.5,880.9 621.5,882.6 631.5,883.2 641.5,883.7 651.5,883.9 661.5,884.1 671.5,884.3 681.5,885.0 691.5,885.7 701.5,886.1 711.5,886.5 721.5,886.8 731.5,886.7 741.5,886.1 751.5,885.4 761.5,884.8 771.5,884.6 781.5,884.5 791.5,884.3 801.5,884.2 811.5,885.2 821.5,886.9 831.5,888.3 841.5,890.7 851.5,894.3 861.5,896.6 871.5,897.0 881.5,899.5 891.5,900.4 901.5,900.0 911.5,899.7 921.5,897.9 931.5,896.4 941.5,896.6 951.5,896.8 961.5,897.0 971.5,898.4 981.5,900.8 991.5,904.1 1001.5,903.5 1011.5,903.0 1021.5,903.3 1031.5,903.7 1041.5,904.0 1051.5,905.5 1061.5,907.5 1071.5,909.4 1081.5,911.3 1091.5,913.2 1101.5,914.7 1111.5,914.7 1121.5,914.7 1131.5,914.7 1141.5,916.0 1151.5,917.4 1161.5,918.1 1171.5,916.5 1181.5,915.0 1191.5,913.8 1201.5,912.2 1211.5,909.7 1221.5,907.3 1231.5,905.2 1241.5,903.0 1251.5,901.2 1261.5,899.6 1271.5,898.0 1281.5,897.3 1291.5,897.4 1301.5,897.6 1311.5,898.3 1321.5,899.2 1331.5,899.5 1341.5,899.7 1351.5,899.9 1361.5,900.1 1371.5,900.3 1381.5,900.9 1391.5,901.6 1401.5,902.3 1411.5,903.4 1421.5,904.7 1431.5,906.3 1441.5,909.6 1451.5,915.0 1461.5,920.3 1471.5,925.6 1481.5,927.3 1491.5,928.4 1501.5,929.3 1511.5,930.1 1521.5,930.5" fill="none" stroke="#7a1c1c" stroke-width="1.15"/>
<polyline points="9.0,870.4 11.5,870.1 21.5,869.1 31.5,867.9 41.5,867.0 51.5,866.9 61.5,866.7 71.5,867.0 81.5,867.9 91.5,868.7 101.5,869.6 111.5,869.7 121.5,869.9 131.5,870.0 141.5,870.1 151.5,870.3 161.5,870.4 171.5,870.8 181.5,871.3 191.5,872.2 201.5,873.0 211.5,874.7 221.5,876.0 231.5,877.6 241.5,879.9 251.5,882.5 261.5,884.2 271.5,885.5 281.5,887.2 291.5,888.8 301.5,890.4 311.5,891.5 321.5,892.5 331.5,892.3 341.5,892.2 351.5,892.1 361.5,892.0 371.5,891.9 381.5,891.7 391.5,891.5 401.5,891.3 411.5,890.9 421.5,890.0 431.5,889.1 441.5,888.1 451.5,888.1 461.5,888.3 471.5,888.8 481.5,888.9 491.5,888.6 501.5,888.2 511.5,887.6 521.5,887.2 531.5,886.6 541.5,885.8 551.5,885.2 561.5,884.8 571.5,884.1 581.5,883.4 591.5,882.7 601.5,881.9 611.5,882.2 621.5,882.6 631.5,883.2 641.5,883.8 651.5,884.1 661.5,884.4 671.5,884.7 681.5,885.0 691.5,885.3 701.5,885.3 711.5,885.2 721.5,885.2 731.5,885.1 741.5,885.0 751.5,884.9 761.5,884.8 771.5,884.6 781.5,884.5 791.5,884.3 801.5,884.2 811.5,884.4 821.5,884.8 831.5,885.4 841.5,886.6 851.5,888.4 861.5,890.1 871.5,891.5 881.5,892.8 891.5,894.0 901.5,895.2 911.5,896.3 921.5,896.4 931.5,896.4 941.5,896.4 951.5,896.4 961.5,896.4 971.5,897.4 981.5,898.9 991.5,900.2 1001.5,900.6 1011.5,901.0 1021.5,901.5 1031.5,902.2 1041.5,903.0 1051.5,903.8 1061.5,904.9 1071.5,906.2 1081.5,907.6 1091.5,908.8 1101.5,909.8 1111.5,910.8 1121.5,911.8 1131.5,912.3 1141.5,912.8 1151.5,913.5 1161.5,914.3 1171.5,914.7 1181.5,914.7 1191.5,914.7 1201.5,913.9 1211.5,912.8 1221.5,911.7 1231.5,910.5 1241.5,909.2 1251.5,907.8 1261.5,906.2 1271.5,904.7 1281.5,903.5 1291.5,902.5 1301.5,901.5 1311.5,900.5 1321.5,900.4 1331.5,900.4 1341.5,900.4 1351.5,900.4 1361.5,900.4 1371.5,900.4 1381.5,900.5 1391.5,900.7 1401.5,900.8 1411.5,901.3 1421.5,902.5 1431.5,903.6 1441.5,904.8 1451.5,907.4 1461.5,910.2 1471.5,912.9 1481.5,915.6 1491.5,918.3 1501.5,920.2 1511.5,922.1 1521.5,924.0" fill="none" stroke="#16165a" stroke-width="1.15"/>
<text transform="scale(0.78,1)" x="19.23 26.92 34.62 42.31 50.00 65.38 73.08 80.77 96.15 103.85 111.54 126.92 142.31" y="858.5" font-size="12" fill="#000" text-anchor="middle" font-family='"Liberation Sans","IPAGothic","Noto Sans CJK JP",sans-serif'>MACD(12,26,9)</text>
<path d="M9 624.5H1621M9 762.5H1621M9 846.5H1621M9 946.5H1621" stroke="#000" stroke-width="1"/>
<path d="M1535.5 116V978" stroke="#000" stroke-width="1"/>
<text transform="scale(0.84,1)" x="1842.14 1850.24 1858.33 1866.43 1874.52 1882.62 1890.71 1898.81 1906.90" y="138.7" font-size="12.5" fill="#000" text-anchor="middle" font-family='"Liberation Sans","IPAGothic","Noto Sans CJK JP",sans-serif' font-weight="bold">20,000.00</text>
<text transform="scale(0.84,1)" x="1842.14 1850.24 1858.33 1866.43 1874.52 1882.62 1890.71 1898.81 1906.90" y="186.7" font-size="12.5" fill="#000" text-anchor="middle" font-family='"Liberation Sans","IPAGothic","Noto Sans CJK JP",sans-serif' font-weight="bold">18,500.00</text>
<text transform="scale(0.84,1)" x="1842.14 1850.24 1858.33 1866.43 1874.52 1882.62 1890.71 1898.81 1906.90" y="234.7" font-size="12.5" fill="#000" text-anchor="middle" font-family='"Liberation Sans","IPAGothic","Noto Sans CJK JP",sans-serif' font-weight="bold">17,000.00</text>
<text transform="scale(0.84,1)" x="1842.14 1850.24 1858.33 1866.43 1874.52 1882.62 1890.71 1898.81 1906.90" y="282.7" font-size="12.5" fill="#000" text-anchor="middle" font-family='"Liberation Sans","IPAGothic","Noto Sans CJK JP",sans-serif' font-weight="bold">15,500.00</text>
<text transform="scale(0.84,1)" x="1842.14 1850.24 1858.33 1866.43 1874.52 1882.62 1890.71 1898.81 1906.90" y="329.7" font-size="12.5" fill="#000" text-anchor="middle" font-family='"Liberation Sans","IPAGothic","Noto Sans CJK JP",sans-serif' font-weight="bold">14,000.00</text>
<text transform="scale(0.84,1)" x="1842.14 1850.24 1858.33 1866.43 1874.52 1882.62 1890.71 1898.81 1906.90" y="377.7" font-size="12.5" fill="#000" text-anchor="middle" font-family='"Liberation Sans","IPAGothic","Noto Sans CJK JP",sans-serif' font-weight="bold">12,500.00</text>
<text transform="scale(0.84,1)" x="1842.14 1850.24 1858.33 1866.43 1874.52 1882.62 1890.71 1898.81 1906.90" y="425.7" font-size="12.5" fill="#000" text-anchor="middle" font-family='"Liberation Sans","IPAGothic","Noto Sans CJK JP",sans-serif' font-weight="bold">11,000.00</text>
<text transform="scale(0.84,1)" x="1842.14 1850.24 1858.33 1866.43 1874.52 1882.62 1890.71 1898.81" y="472.7" font-size="12.5" fill="#000" text-anchor="middle" font-family='"Liberation Sans","IPAGothic","Noto Sans CJK JP",sans-serif' font-weight="bold">9,500.00</text>
<text transform="scale(0.84,1)" x="1842.14 1850.24 1858.33 1866.43 1874.52 1882.62 1890.71 1898.81" y="520.7" font-size="12.5" fill="#000" text-anchor="middle" font-family='"Liberation Sans","IPAGothic","Noto Sans CJK JP",sans-serif' font-weight="bold">8,000.00</text>
<text transform="scale(0.84,1)" x="1842.14 1850.24 1858.33 1866.43 1874.52 1882.62 1890.71 1898.81" y="568.7" font-size="12.5" fill="#000" text-anchor="middle" font-family='"Liberation Sans","IPAGothic","Noto Sans CJK JP",sans-serif' font-weight="bold">6,500.00</text>
<text transform="scale(0.84,1)" x="1842.14 1850.24 1858.33 1866.43 1874.52 1882.62 1890.71 1898.81" y="615.7" font-size="12.5" fill="#000" text-anchor="middle" font-family='"Liberation Sans","IPAGothic","Noto Sans CJK JP",sans-serif' font-weight="bold">5,000.00</text>
<text transform="scale(0.84,1)" x="1842.14 1850.24 1858.33 1866.43 1874.52" y="646.7" font-size="12.5" fill="#000" text-anchor="middle" font-family='"Liberation Sans","IPAGothic","Noto Sans CJK JP",sans-serif' font-weight="bold">85.00</text>
<text transform="scale(0.84,1)" x="1842.14 1850.24 1858.33 1866.43 1874.52" y="684.7" font-size="12.5" fill="#000" text-anchor="middle" font-family='"Liberation Sans","IPAGothic","Noto Sans CJK JP",sans-serif' font-weight="bold">60.00</text>
<text transform="scale(0.84,1)" x="1842.14 1850.24 1858.33 1866.43 1874.52" y="721.7" font-size="12.5" fill="#000" text-anchor="middle" font-family='"Liberation Sans","IPAGothic","Noto Sans CJK JP",sans-serif' font-weight="bold">35.00</text>
<text transform="scale(0.84,1)" x="1842.14 1850.24 1858.33 1866.43 1874.52" y="785.7" font-size="12.5" fill="#000" text-anchor="middle" font-family='"Liberation Sans","IPAGothic","Noto Sans CJK JP",sans-serif' font-weight="bold">85.00</text>
<text transform="scale(0.84,1)" x="1842.14 1850.24 1858.33 1866.43 1874.52" y="824.7" font-size="12.5" fill="#000" text-anchor="middle" font-family='"Liberation Sans","IPAGothic","Noto Sans CJK JP",sans-serif' font-weight="bold">40.00</text>
<text transform="scale(0.84,1)" x="1842.14 1850.24 1858.33 1866.43 1874.52 1882.62 1890.71 1898.81" y="868.7" font-size="12.5" fill="#000" text-anchor="middle" font-family='"Liberation Sans","IPAGothic","Noto Sans CJK JP",sans-serif' font-weight="bold">1,100.00</text>
<text transform="scale(0.84,1)" x="1842.14 1850.24 1858.33 1866.43 1874.52 1882.62 1890.71" y="905.7" font-size="12.5" fill="#000" text-anchor="middle" font-family='"Liberation Sans","IPAGothic","Noto Sans CJK JP",sans-serif' font-weight="bold">-300.00</text>
<text transform="scale(0.82,1)" x="127.32 135.61 143.90 152.20 160.49" y="966.0" font-size="13" fill="#000" text-anchor="middle" font-family='"Liberation Sans","IPAGothic","Noto Sans CJK JP",sans-serif' font-weight="bold">06/03</text>
<text transform="scale(0.82,1)" x="224.88 233.17 241.46 249.76 258.05" y="966.0" font-size="13" fill="#000" text-anchor="middle" font-family='"Liberation Sans","IPAGothic","Noto Sans CJK JP",sans-serif' font-weight="bold">06/05</text>
<text transform="scale(0.82,1)" x="334.63 342.93 351.22 359.51 367.80" y="966.0" font-size="13" fill="#000" text-anchor="middle" font-family='"Liberation Sans","IPAGothic","Noto Sans CJK JP",sans-serif' font-weight="bold">06/07</text>
<text transform="scale(0.82,1)" x="444.39 452.68 460.98 469.27 477.56" y="966.0" font-size="13" fill="#000" text-anchor="middle" font-family='"Liberation Sans","IPAGothic","Noto Sans CJK JP",sans-serif' font-weight="bold">06/09</text>
<text transform="scale(0.82,1)" x="554.15 562.44 570.73 579.02 587.32" y="966.0" font-size="13" fill="#000" text-anchor="middle" font-family='"Liberation Sans","IPAGothic","Noto Sans CJK JP",sans-serif' font-weight="bold">06/11</text>
<text transform="scale(0.82,1)" x="651.71 660.00 668.29 676.59" y="966.0" font-size="13" fill="#000" text-anchor="middle" font-family='"Liberation Sans","IPAGothic","Noto Sans CJK JP",sans-serif' font-weight="bold">2007</text>
<text transform="scale(0.82,1)" x="761.46 769.76 778.05 786.34 794.63" y="966.0" font-size="13" fill="#000" text-anchor="middle" font-family='"Liberation Sans","IPAGothic","Noto Sans CJK JP",sans-serif' font-weight="bold">07/03</text>
<text transform="scale(0.82,1)" x="871.22 879.51 887.80 896.10 904.39" y="966.0" font-size="13" fill="#000" text-anchor="middle" font-family='"Liberation Sans","IPAGothic","Noto Sans CJK JP",sans-serif' font-weight="bold">07/05</text>
<text transform="scale(0.82,1)" x="968.78 977.07 985.37 993.66 1001.95" y="966.0" font-size="13" fill="#000" text-anchor="middle" font-family='"Liberation Sans","IPAGothic","Noto Sans CJK JP",sans-serif' font-weight="bold">07/07</text>
<text transform="scale(0.82,1)" x="1078.54 1086.83 1095.12 1103.41 1111.71" y="966.0" font-size="13" fill="#000" text-anchor="middle" font-family='"Liberation Sans","IPAGothic","Noto Sans CJK JP",sans-serif' font-weight="bold">07/09</text>
<text transform="scale(0.82,1)" x="1188.29 1196.59 1204.88 1213.17 1221.46" y="966.0" font-size="13" fill="#000" text-anchor="middle" font-family='"Liberation Sans","IPAGothic","Noto Sans CJK JP",sans-serif' font-weight="bold">07/11</text>
<text transform="scale(0.82,1)" x="1298.05 1306.34 1314.63 1322.93" y="966.0" font-size="13" fill="#000" text-anchor="middle" font-family='"Liberation Sans","IPAGothic","Noto Sans CJK JP",sans-serif' font-weight="bold">2008</text>
<text transform="scale(0.82,1)" x="1395.61 1403.90 1412.20 1420.49 1428.78" y="966.0" font-size="13" fill="#000" text-anchor="middle" font-family='"Liberation Sans","IPAGothic","Noto Sans CJK JP",sans-serif' font-weight="bold">08/03</text>
<text transform="scale(0.82,1)" x="1505.37 1513.66 1521.95 1530.24 1538.54" y="966.0" font-size="13" fill="#000" text-anchor="middle" font-family='"Liberation Sans","IPAGothic","Noto Sans CJK JP",sans-serif' font-weight="bold">08/05</text>
<text transform="scale(0.82,1)" x="1615.12 1623.41 1631.71 1640.00 1648.29" y="966.0" font-size="13" fill="#000" text-anchor="middle" font-family='"Liberation Sans","IPAGothic","Noto Sans CJK JP",sans-serif' font-weight="bold">08/07</text>
<text transform="scale(0.82,1)" x="1712.68 1720.98 1729.27 1737.56 1745.85" y="966.0" font-size="13" fill="#000" text-anchor="middle" font-family='"Liberation Sans","IPAGothic","Noto Sans CJK JP",sans-serif' font-weight="bold">08/09</text>
<text transform="scale(0.82,1)" x="1822.44 1830.73 1839.02 1847.32 1855.61" y="966.0" font-size="13" fill="#000" text-anchor="middle" font-family='"Liberation Sans","IPAGothic","Noto Sans CJK JP",sans-serif' font-weight="bold">08/11</text>
<path d="M1535 133.5H1541M1535 181.5H1541M1535 229.5H1541M1535 277.5H1541M1535 324.5H1541M1535 372.5H1541M1535 420.5H1541M1535 467.5H1541M1535 515.5H1541M1535 563.5H1541M1535 610.5H1541M1535 641.5H1541M1535 679.5H1541M1535 716.5H1541M1535 780.5H1541M1535 819.5H1541M1535 863.5H1541M1535 900.5H1541M101.5 946V955M181.5 946V955M271.5 946V955M361.5 946V955M451.5 946V955M531.5 946V955M621.5 946V955M711.5 946V955M791.5 946V955M881.5 946V955M971.5 946V955M1061.5 946V955M1141.5 946V955M1231.5 946V955M1321.5 946V955M1401.5 946V955M1491.5 946V955" stroke="#000" stroke-width="1"/>
<rect x="1604.5" y="118.5" width="14" height="12" fill="#fff" stroke="#9a9a9a" stroke-width="1"/>
<path d="M1606.5 122.0h11l-5.5 5.5z" fill="#8a8a8a" stroke="#000" stroke-width="0.9" stroke-linejoin="round"/>
<rect x="1604.5" y="626.5" width="14" height="12" fill="#fff" stroke="#9a9a9a" stroke-width="1"/>
<path d="M1606.5 630.0h11l-5.5 5.5z" fill="#8a8a8a" stroke="#000" stroke-width="0.9" stroke-linejoin="round"/>
<rect x="1604.5" y="764.5" width="14" height="12" fill="#fff" stroke="#9a9a9a" stroke-width="1"/>
<path d="M1606.5 768.0h11l-5.5 5.5z" fill="#8a8a8a" stroke="#000" stroke-width="0.9" stroke-linejoin="round"/>
<rect x="1604.5" y="848.5" width="14" height="12" fill="#fff" stroke="#9a9a9a" stroke-width="1"/>
<path d="M1606.5 852.0h11l-5.5 5.5z" fill="#8a8a8a" stroke="#000" stroke-width="0.9" stroke-linejoin="round"/>
</svg>
<div class="a" style="left:9px;top:978px;width:1611px;height:17px;background:#fff"></div>
<div class="a dith" style="left:24px;top:978px;width:493px;height:17px"></div>
<div class="a" style="left:517px;top:978px;width:763px;height:17px;background:#c0c0c0;border-right:1px solid #000;border-bottom:1px solid #000;box-sizing:border-box"></div>
<div class="a" style="left:518px;top:979px;width:761px;height:15px;border-top:1px solid #fff;border-left:1px solid #fff;box-sizing:border-box"></div>
<div class="a sb" style="left:8px;top:978px;width:16px;height:17px"><svg width="16" height="17"><path d="M9.5 4v8.5l-4.5-4.2z" fill="#000"/></svg></div>
<div class="a sb" style="left:1280px;top:978px;width:16px;height:17px"><svg width="16" height="17"><path d="M6 4.5v8l4.5-4z" fill="#000"/></svg></div>
<div class="a" style="left:1296px;top:978px;width:121px;height:17px;background:#c0c0c0"></div>
<div class="a" style="left:1301px;top:982px;width:110px;height:3px;background:#2a2a2a;border-radius:1px"></div>
<div class="a" style="left:1312px;top:980px;width:5px;height:11px;background:#444;border-radius:1px"></div>
<div class="a" style="left:1303px;top:992px;width:1px;height:3px;background:#000"></div><div class="a" style="left:1408px;top:992px;width:1px;height:3px;background:#000"></div>
<div class="a" style="left:1416px;top:978px;width:205px;height:17px;background:#c4c4c4"></div>
<div class="a ib" style="left:1417px;top:979px;width:15px;height:16px"><svg width="15" height="16" style="position:absolute;left:-1px;top:-2px"><path d="M2 8.5l6-5v10zM9 3.5h2.5v10H9z" fill="#103a8a"/></svg></div>
<div class="a ib" style="left:1434px;top:979px;width:15px;height:16px"><svg width="15" height="16" style="position:absolute;left:-1px;top:-2px"><path d="M7 3v10M2 8h10" stroke="#222" stroke-width="2.2"/></svg></div>
<div class="a ib" style="left:1451px;top:979px;width:15px;height:16px"><svg width="15" height="16" style="position:absolute;left:-1px;top:-2px"><path d="M3 8h9" stroke="#222" stroke-width="2.2"/></svg></div>
<div class="a ib" style="left:1468px;top:979px;width:15px;height:16px"><svg width="15" height="16" style="position:absolute;left:-1px;top:-2px"><path d="M7 3v10" stroke="#103a8a" stroke-width="2"/><path d="M1 8l4-3v6zM13 8l-4-3v6z" fill="#103a8a"/></svg></div>
<div class="a ib" style="left:1485px;top:979px;width:15px;height:16px"><svg width="15" height="16" style="position:absolute;left:-1px;top:-2px"><rect x="5" y="6" width="5" height="5" fill="#103a8a"/></svg></div>
<div class="a ib" style="left:1502px;top:979px;width:15px;height:16px"><svg width="15" height="16" style="position:absolute;left:-1px;top:-2px"><path d="M5 4l5 4.5-5 4.5z" fill="#103a8a"/></svg></div>
<div class="a ib" style="left:1519px;top:979px;width:15px;height:16px"><svg width="15" height="16" style="position:absolute;left:-1px;top:-2px"><text x="2" y="13" font-family="Liberation Sans" font-weight="bold" font-size="13" fill="#333">D</text></svg></div>
<div class="a ib" style="left:1536px;top:979px;width:15px;height:16px"><svg width="15" height="16" style="position:absolute;left:-1px;top:-2px"><text x="3" y="13" font-family="Liberation Sans" font-weight="bold" font-size="13" fill="#333">L</text></svg></div>
<div class="a ib" style="left:1553px;top:979px;width:15px;height:16px"><svg width="15" height="16" style="position:absolute;left:-1px;top:-2px"><text x="2" y="13" font-family="Liberation Sans" font-weight="bold" font-size="13" fill="#333">R</text></svg></div>
<div class="a ib" style="left:1570px;top:979px;width:15px;height:16px"><svg width="15" height="16" style="position:absolute;left:-1px;top:-2px"><circle cx="6.5" cy="7" r="4" fill="none" stroke="#222" stroke-width="1.5"/><path d="M9.5 10l3 3M4.5 7h4M6.5 5v4" stroke="#222" stroke-width="1.3"/></svg></div>
<div class="a ib" style="left:1587px;top:979px;width:15px;height:16px"><svg width="15" height="16" style="position:absolute;left:-1px;top:-2px"><path d="M3 3l9 10M12 3l-9 10" stroke="#222" stroke-width="2"/></svg></div>
<div class="a ib" style="left:1603px;top:979px;width:15px;height:16px"><svg width="15" height="16" style="position:absolute;left:-1px;top:-2px"><path d="M3 3.5h2.5v10H3zM6.5 3.5l6 5-6 5z" fill="#103a8a"/></svg></div>
<div class="a" style="left:9px;top:995px;width:1611px;height:1px;background:#fff"></div>
<div class="a" style="left:7px;top:996px;width:1613px;height:1px;background:#000"></div>
<div class="a" style="left:7px;top:997px;width:1613px;height:18px;background:#fff"></div>
<div class="a" style="left:11px;top:996px;width:56px;height:20px;background:#f4f4f4;border-right:2px solid #333;border-bottom:1px solid #333;box-sizing:border-box"></div>
<div class="a bb" style="left:1303px;top:997px;width:79px;height:19px"></div>
<div class="a bb" style="left:1383px;top:997px;width:79px;height:19px"></div>
<div class="a bb" style="left:1463px;top:997px;width:79px;height:19px"></div>
<div class="a bb" style="left:1543px;top:997px;width:79px;height:19px"></div>
<div class="a" style="left:3px;top:1015px;width:1622px;height:1px;background:#000"></div>
<div class="a" style="left:0;top:1016px;width:1628px;height:3px;background:#333"></div>
<div class="a" style="left:0;top:1019px;width:1628px;height:2px;background:#c0c0c0"></div>
<div class="a" style="left:0;top:1021px;width:1628px;height:27px;background:#1c1c1c"></div>
<div class="a" style="left:0;top:1048px;width:1632px;height:2px;background:#e8e8e8"></div>
<div class="a" style="left:9px;top:1028px;width:14px;height:14px;background:#fff;border:1px solid #000;border-right-color:#aaa;border-bottom-color:#aaa;box-sizing:border-box"></div>
<div class="a" style="left:29px;top:1023px;width:54px;height:24px;background:#1e1e1e;border:1px solid #999;box-sizing:border-box"></div>
<div class="a" style="left:83px;top:1024px;width:35px;height:22px;background:#fff;border-right:1px solid #999;box-sizing:border-box"></div>
<div class="a" style="left:119px;top:1024px;width:34px;height:22px;background:#fff;border-right:1px solid #999;box-sizing:border-box"></div>
<div class="a" style="left:154px;top:1024px;width:34px;height:22px;background:#fff;border-right:1px solid #999;box-sizing:border-box"></div>
<div class="a" style="left:189px;top:1024px;width:34px;height:22px;background:#fff;border-right:1px solid #999;box-sizing:border-box"></div>
<div class="a" style="left:224px;top:1024px;width:34px;height:22px;background:#fff;border-right:1px solid #999;box-sizing:border-box"></div>
<div class="a" style="left:262px;top:1024px;width:292px;height:22px;background:#fff"></div>
<div class="a" style="left:573px;top:1024px;width:1018px;height:22px;background:#fff"></div>
<svg class="a" style="left:429px;top:1028px" width="15" height="15"><path d="M7 1.5l6.5 12H0.5z" fill="#e01010"/></svg>
<div class="a" style="left:554px;top:1024px;width:19px;height:22px;background:#1c1c1c"></div>
<div class="wb" style="left:556px;top:1028px;width:14px;height:14px"></div>
<svg class="a" style="left:556px;top:1028px" width="14" height="14"><path d="M7 3l4 4H9v4H5V7H3z" fill="#333"/></svg>
<div class="wb" style="left:1593px;top:1028px;width:14px;height:14px"></div>
<div class="wb" style="left:1609px;top:1028px;width:14px;height:14px"></div>
<svg class="a" style="left:1593px;top:1028px" width="30" height="14"><path d="M7 3l4 4H9v4H5V7H3z" fill="#333"/><path d="M21 3v8M24 4h3M24 7h3M24 10h3" stroke="#aab"/></svg>
<svg class="a" style="left:0;top:0;pointer-events:none" width="1632" height="1050">
<text x="20.5" y="13.3" font-family='"Liberation Sans","Noto Sans CJK JP",sans-serif' font-size="12.5" fill="#fff" font-weight="bold" textLength="134.0" lengthAdjust="spacingAndGlyphs">ジョインベスト・エクスプレス</text>
<text x="7.5" y="36.3" font-family='"Liberation Sans","Noto Sans CJK JP",sans-serif' font-size="12" fill="#e6e6e6" textLength="77.8" lengthAdjust="spacingAndGlyphs">株式注文･照会</text>
<text x="100.0" y="36.3" font-family='"Liberation Sans","Noto Sans CJK JP",sans-serif' font-size="12" fill="#e6e6e6" textLength="72.0" lengthAdjust="spacingAndGlyphs">株式残高照会</text>
<text x="187.6" y="36.3" font-family='"Liberation Sans","Noto Sans CJK JP",sans-serif' font-size="12" fill="#e6e6e6" textLength="92.4" lengthAdjust="spacingAndGlyphs">先物OP注文･照会</text>
<text x="295.6" y="36.3" font-family='"Liberation Sans","Noto Sans CJK JP",sans-serif' font-size="12" fill="#e6e6e6" textLength="86.4" lengthAdjust="spacingAndGlyphs">先物OP残高照会</text>
<text x="397.6" y="36.3" font-family='"Liberation Sans","Noto Sans CJK JP",sans-serif' font-size="12" fill="#e6e6e6" textLength="48.0" lengthAdjust="spacingAndGlyphs">株式情報</text>
<text x="460.8" y="36.3" font-family='"Liberation Sans","Noto Sans CJK JP",sans-serif' font-size="12" fill="#e6e6e6" textLength="62.5" lengthAdjust="spacingAndGlyphs">先物OP情報</text>
<text x="538.6" y="36.3" font-family='"Liberation Sans","Noto Sans CJK JP",sans-serif' font-size="12" fill="#e6e6e6" textLength="75.4" lengthAdjust="spacingAndGlyphs">マーケット情報</text>
<text x="628.4" y="36.3" font-family='"Liberation Sans","Noto Sans CJK JP",sans-serif' font-size="12" fill="#e6e6e6" textLength="39.8" lengthAdjust="spacingAndGlyphs">チャート</text>
<text x="684.5" y="36.3" font-family='"Liberation Sans","Noto Sans CJK JP",sans-serif' font-size="12" fill="#e6e6e6" textLength="23.5" lengthAdjust="spacingAndGlyphs">設定</text>
<text x="724.3" y="36.3" font-family='"Liberation Sans","Noto Sans CJK JP",sans-serif' font-size="12" fill="#e6e6e6" textLength="47.2" lengthAdjust="spacingAndGlyphs">ウィンドウ</text>
<text x="786.2" y="36.3" font-family='"Liberation Sans","Noto Sans CJK JP",sans-serif' font-size="12" fill="#e6e6e6" textLength="33.8" lengthAdjust="spacingAndGlyphs">ヘルプ</text>
<text x="835.2" y="36.3" font-family='"Liberation Sans","Noto Sans CJK JP",sans-serif' font-size="12" fill="#e6e6e6" textLength="88.8" lengthAdjust="spacingAndGlyphs">ご利用にあたって</text>
<text x="72.5" y="60.5" font-family='"Liberation Sans","Noto Sans CJK JP",sans-serif' font-size="15" fill="#e08a10" font-weight="bold" textLength="8.0" lengthAdjust="spacingAndGlyphs">1</text>
<text x="91.5" y="60.5" font-family='"Liberation Sans","Noto Sans CJK JP",sans-serif' font-size="15" fill="#3a4050" font-weight="bold" textLength="8.0" lengthAdjust="spacingAndGlyphs">2</text>
<text x="110.5" y="60.5" font-family='"Liberation Sans","Noto Sans CJK JP",sans-serif' font-size="15" fill="#3a4050" font-weight="bold" textLength="8.0" lengthAdjust="spacingAndGlyphs">3</text>
<text x="129.5" y="60.5" font-family='"Liberation Sans","Noto Sans CJK JP",sans-serif' font-size="15" fill="#3a4050" font-weight="bold" textLength="8.0" lengthAdjust="spacingAndGlyphs">4</text>
<text x="161.0" y="59.5" font-family='"Liberation Sans","Noto Sans CJK JP",sans-serif' font-size="12" fill="#222" textLength="60.0" lengthAdjust="spacingAndGlyphs">画面レイアウト</text>
<text x="264.0" y="59.5" font-family='"Liberation Sans","Noto Sans CJK JP",sans-serif' font-size="12" fill="#222" textLength="38.0" lengthAdjust="spacingAndGlyphs">ツールバー</text>
<text x="357.0" y="59.5" font-family='"Liberation Sans","Noto Sans CJK JP",sans-serif' font-size="12" fill="#222" textLength="47.0" lengthAdjust="spacingAndGlyphs">株価一覧</text>
<text x="418.0" y="59.5" font-family='"Liberation Sans","Noto Sans CJK JP",sans-serif' font-size="12" fill="#222" textLength="47.0" lengthAdjust="spacingAndGlyphs">株価格表</text>
<text x="479.0" y="59.5" font-family='"Liberation Sans","Noto Sans CJK JP",sans-serif' font-size="12" fill="#222" textLength="47.0" lengthAdjust="spacingAndGlyphs">指数一覧</text>
<text x="540.0" y="59.5" font-family='"Liberation Sans","Noto Sans CJK JP",sans-serif' font-size="12" fill="#222" textLength="47.0" lengthAdjust="spacingAndGlyphs">業種一覧</text>
<text x="601.0" y="59.5" font-family='"Liberation Sans","Noto Sans CJK JP",sans-serif' font-size="12" fill="#222" textLength="47.0" lengthAdjust="spacingAndGlyphs">ニュース</text>
<text x="662.0" y="59.5" font-family='"Liberation Sans","Noto Sans CJK JP",sans-serif' font-size="12" fill="#222" textLength="47.0" lengthAdjust="spacingAndGlyphs">株価急騰</text>
<text x="723.0" y="59.5" font-family='"Liberation Sans","Noto Sans CJK JP",sans-serif' font-size="12" fill="#222" textLength="47.0" lengthAdjust="spacingAndGlyphs">出来急増</text>
<text x="784.0" y="59.5" font-family='"Liberation Sans","Noto Sans CJK JP",sans-serif' font-size="12" fill="#222" textLength="47.0" lengthAdjust="spacingAndGlyphs">株まめ表</text>
<text x="845.0" y="59.5" font-family='"Liberation Sans","Noto Sans CJK JP",sans-serif' font-size="12" fill="#222" textLength="47.0" lengthAdjust="spacingAndGlyphs">株式歩み</text>
<text x="906.0" y="59.5" font-family='"Liberation Sans","Noto Sans CJK JP",sans-serif' font-size="12" fill="#222" textLength="47.0" lengthAdjust="spacingAndGlyphs">株価日足</text>
<text x="967.0" y="59.5" font-family='"Liberation Sans","Noto Sans CJK JP",sans-serif' font-size="12" fill="#222" textLength="47.0" lengthAdjust="spacingAndGlyphs">株式同一</text>
<text x="1028.0" y="59.5" font-family='"Liberation Sans","Noto Sans CJK JP",sans-serif' font-size="12" fill="#222" textLength="47.0" lengthAdjust="spacingAndGlyphs">株価強度</text>
<text x="1455.0" y="60.0" font-family='"Liberation Sans","Noto Sans CJK JP",sans-serif' font-size="12" fill="#d8d8d8" textLength="77.0" lengthAdjust="spacingAndGlyphs">取引パスワード</text>
<text x="27.0" y="85.5" font-family='"Liberation Sans","Noto Sans CJK JP",sans-serif' font-size="13" fill="#fff" font-weight="bold" textLength="37.0" lengthAdjust="spacingAndGlyphs">[5110]</text>
<text x="70.5" y="85.5" font-family='"Liberation Sans","Noto Sans CJK JP",sans-serif' font-size="13" fill="#fff" font-weight="bold" textLength="64.0" lengthAdjust="spacingAndGlyphs">指数チャート</text>
<text x="31.8" y="107.3" font-family='"Liberation Sans","Noto Sans CJK JP",sans-serif' font-size="13" fill="#000" textLength="41.7" lengthAdjust="spacingAndGlyphs">日経225</text>
<text x="118.0" y="107.5" font-family='"Liberation Sans","Noto Sans CJK JP",sans-serif' font-size="13" fill="#cfcfcf" textLength="23.0" lengthAdjust="spacingAndGlyphs">東証</text>
<text x="163.0" y="107.5" font-family='"Liberation Sans","Noto Sans CJK JP",sans-serif' font-size="13" fill="#cfcfcf" textLength="15.4" lengthAdjust="spacingAndGlyphs">HC</text>
<text x="209.0" y="107.5" font-family='"Liberation Sans","Noto Sans CJK JP",sans-serif' font-size="13" fill="#cfcfcf" textLength="13.5" lengthAdjust="spacingAndGlyphs">JQ</text>
<text x="253.0" y="107.5" font-family='"Liberation Sans","Noto Sans CJK JP",sans-serif' font-size="13" fill="#cfcfcf" textLength="23.5" lengthAdjust="spacingAndGlyphs">日経</text>
<text x="287.5" y="108.0" font-family='"Liberation Sans","Noto Sans CJK JP",sans-serif' font-size="13" fill="#cfcfcf" textLength="12.0" lengthAdjust="spacingAndGlyphs">足</text>
<text x="321.5" y="107.5" font-family='"Liberation Sans","Noto Sans CJK JP",sans-serif' font-size="13" fill="#000" textLength="4.5" lengthAdjust="spacingAndGlyphs">1</text>
<text x="348.4" y="108.0" font-family='"Liberation Sans","Noto Sans CJK JP",sans-serif' font-size="13" fill="#111" textLength="9.2" lengthAdjust="spacingAndGlyphs">日</text>
<text x="368.2" y="108.0" font-family='"Liberation Sans","Noto Sans CJK JP",sans-serif' font-size="13" fill="#111" textLength="11.3" lengthAdjust="spacingAndGlyphs">週</text>
<text x="389.0" y="108.0" font-family='"Liberation Sans","Noto Sans CJK JP",sans-serif' font-size="13" fill="#111" textLength="9.6" lengthAdjust="spacingAndGlyphs">月</text>
<text x="408.0" y="108.0" font-family='"Liberation Sans","Noto Sans CJK JP",sans-serif' font-size="13" fill="#111" textLength="11.2" lengthAdjust="spacingAndGlyphs">分</text>
<text x="430.0" y="108.0" font-family='"Liberation Sans","Noto Sans CJK JP",sans-serif' font-size="13" fill="#111" textLength="8.2" lengthAdjust="spacingAndGlyphs">T</text>
<text x="458.0" y="108.0" font-family='"Liberation Sans","Noto Sans CJK JP",sans-serif' font-size="13" fill="#bdbdbd" textLength="11.0" lengthAdjust="spacingAndGlyphs">分</text>
<text x="484.0" y="107.5" font-family='"Liberation Sans","Noto Sans CJK JP",sans-serif' font-size="13" fill="#7a7a7a" textLength="13.4" lengthAdjust="spacingAndGlyphs">60</text>
<text x="517.0" y="108.0" font-family='"Liberation Sans","Noto Sans CJK JP",sans-serif' font-size="13" fill="#cfcfcf" textLength="23.0" lengthAdjust="spacingAndGlyphs">本数</text>
<text x="559.6" y="107.5" font-family='"Liberation Sans","Noto Sans CJK JP",sans-serif' font-size="13" fill="#000" textLength="17.6" lengthAdjust="spacingAndGlyphs">250</text>
<text x="600.0" y="108.0" font-family='"Liberation Sans","Noto Sans CJK JP",sans-serif' font-size="13" fill="#111" textLength="23.2" lengthAdjust="spacingAndGlyphs">適用</text>
<text x="674.3" y="108.0" font-family='"Liberation Sans","Noto Sans CJK JP",sans-serif' font-size="13" fill="#111" textLength="47.7" lengthAdjust="spacingAndGlyphs">複数銘柄</text>
<text x="14.5" y="1010.6" font-family='"Liberation Sans","Noto Sans CJK JP",sans-serif' font-size="13.5" fill="#000" font-weight="bold" textLength="45.5" lengthAdjust="spacingAndGlyphs">日経225</text>
<text x="1309.0" y="1010.5" font-family='"Liberation Sans","Noto Sans CJK JP",sans-serif' font-size="12" fill="#111" textLength="65.0" lengthAdjust="spacingAndGlyphs">チャート追加</text>
<text x="1390.0" y="1010.5" font-family='"Liberation Sans","Noto Sans CJK JP",sans-serif' font-size="12" fill="#111" textLength="64.0" lengthAdjust="spacingAndGlyphs">チャート削除</text>
<text x="1477.0" y="1010.5" font-family='"Liberation Sans","Noto Sans CJK JP",sans-serif' font-size="12" fill="#111" textLength="48.0" lengthAdjust="spacingAndGlyphs">表示切替</text>
<text x="1557.7" y="1010.5" font-family='"Liberation Sans","Noto Sans CJK JP",sans-serif' font-size="12" fill="#111" textLength="47.3" lengthAdjust="spacingAndGlyphs">画面設定</text>
<text x="39.0" y="1038.8" font-family='"Liberation Sans","Noto Sans CJK JP",sans-serif' font-size="12.5" fill="#fff" textLength="37.5" lengthAdjust="spacingAndGlyphs">TOPIX</text>
<text x="93.7" y="1038.8" font-family='"Liberation Sans","Noto Sans CJK JP",sans-serif' font-size="12.5" fill="#6a1a3a" textLength="11.4" lengthAdjust="spacingAndGlyphs">15</text>
<text x="121.7" y="1038.8" font-family='"Liberation Sans","Noto Sans CJK JP",sans-serif' font-size="12.5" fill="#d07aa8" textLength="25.3" lengthAdjust="spacingAndGlyphs">1,078</text>
<text x="163.2" y="1038.8" font-family='"Liberation Sans","Noto Sans CJK JP",sans-serif' font-size="12.5" fill="#111" textLength="11.8" lengthAdjust="spacingAndGlyphs">95</text>
<text x="195.2" y="1038.8" font-family='"Liberation Sans","Noto Sans CJK JP",sans-serif' font-size="12.5" fill="#2aa8c8" textLength="18.0" lengthAdjust="spacingAndGlyphs">538</text>
<text x="236.8" y="1038.8" font-family='"Liberation Sans","Noto Sans CJK JP",sans-serif' font-size="12.5" fill="#1a1a80" textLength="4.0" lengthAdjust="spacingAndGlyphs">1</text>
<text x="263.5" y="1038.8" font-family='"Liberation Sans","Noto Sans CJK JP",sans-serif' font-size="12.5" fill="#888" textLength="32.6" lengthAdjust="spacingAndGlyphs">[15:01]</text>
<text x="303.4" y="1038.8" font-family='"Liberation Sans","Noto Sans CJK JP",sans-serif' font-size="12.5" fill="#111" textLength="36.8" lengthAdjust="spacingAndGlyphs">TOPIX</text>
<text x="374.5" y="1038.8" font-family='"Liberation Sans","Noto Sans CJK JP",sans-serif' font-size="12.5" fill="#111" textLength="31.6" lengthAdjust="spacingAndGlyphs">834.82</text>
<text x="446.0" y="1038.8" font-family='"Liberation Sans","Noto Sans CJK JP",sans-serif' font-size="12.5" fill="#c01818" textLength="20.2" lengthAdjust="spacingAndGlyphs">5.79</text>
<text x="495.0" y="1038.8" font-family='"Liberation Sans","Noto Sans CJK JP",sans-serif' font-size="12.5" fill="#c01818" textLength="41.3" lengthAdjust="spacingAndGlyphs">( 0.70% )</text>
</svg>
</body></html>
